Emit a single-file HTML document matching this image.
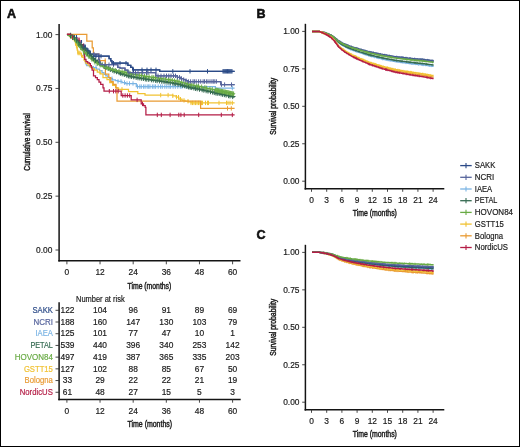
<!DOCTYPE html>
<html><head><meta charset="utf-8"><style>
html,body{margin:0;padding:0;background:#fff;}
body{width:520px;height:447px;overflow:hidden;font-family:"Liberation Sans", sans-serif;}
svg{display:block;will-change:transform;}
</style></head><body>
<svg width="520" height="447" viewBox="0 0 520 447" font-family='"Liberation Sans", sans-serif'>
<rect x="0" y="0" width="520" height="447" fill="#fff"/>
<text x="7" y="17.8" font-size="12.5" text-anchor="start" fill="#111" font-weight="bold" stroke="#111" stroke-width="0.55">A</text>
<line x1="59.1" y1="24" x2="59.1" y2="261.6" stroke="#141414" stroke-width="1.5" />
<line x1="58.3" y1="260.8" x2="240.5" y2="260.8" stroke="#141414" stroke-width="1.5" />
<line x1="55.5" y1="34.6" x2="59.1" y2="34.6" stroke="#333" stroke-width="0.9" />
<text x="52.4" y="37.5" font-size="8.4" text-anchor="end" fill="#1a1a1a" font-weight="normal"  stroke="#1a1a1a" stroke-width="0.18">1.00</text>
<line x1="55.5" y1="88.45" x2="59.1" y2="88.45" stroke="#333" stroke-width="0.9" />
<text x="52.4" y="91.35" font-size="8.4" text-anchor="end" fill="#1a1a1a" font-weight="normal"  stroke="#1a1a1a" stroke-width="0.18">0.75</text>
<line x1="55.5" y1="142.3" x2="59.1" y2="142.3" stroke="#333" stroke-width="0.9" />
<text x="52.4" y="145.2" font-size="8.4" text-anchor="end" fill="#1a1a1a" font-weight="normal"  stroke="#1a1a1a" stroke-width="0.18">0.50</text>
<line x1="55.5" y1="196.15" x2="59.1" y2="196.15" stroke="#333" stroke-width="0.9" />
<text x="52.4" y="199.05" font-size="8.4" text-anchor="end" fill="#1a1a1a" font-weight="normal"  stroke="#1a1a1a" stroke-width="0.18">0.25</text>
<line x1="55.5" y1="250" x2="59.1" y2="250" stroke="#333" stroke-width="0.9" />
<text x="52.4" y="252.9" font-size="8.4" text-anchor="end" fill="#1a1a1a" font-weight="normal"  stroke="#1a1a1a" stroke-width="0.18">0.00</text>
<line x1="66.9" y1="260.8" x2="66.9" y2="264.3" stroke="#333" stroke-width="0.9" />
<text x="66.9" y="275.3" font-size="8.4" text-anchor="middle" fill="#1a1a1a" font-weight="normal"  stroke="#1a1a1a" stroke-width="0.18">0</text>
<line x1="100.04" y1="260.8" x2="100.04" y2="264.3" stroke="#333" stroke-width="0.9" />
<text x="100.04" y="275.3" font-size="8.4" text-anchor="middle" fill="#1a1a1a" font-weight="normal"  stroke="#1a1a1a" stroke-width="0.18">12</text>
<line x1="133.18" y1="260.8" x2="133.18" y2="264.3" stroke="#333" stroke-width="0.9" />
<text x="133.18" y="275.3" font-size="8.4" text-anchor="middle" fill="#1a1a1a" font-weight="normal"  stroke="#1a1a1a" stroke-width="0.18">24</text>
<line x1="166.32" y1="260.8" x2="166.32" y2="264.3" stroke="#333" stroke-width="0.9" />
<text x="166.32" y="275.3" font-size="8.4" text-anchor="middle" fill="#1a1a1a" font-weight="normal"  stroke="#1a1a1a" stroke-width="0.18">36</text>
<line x1="199.46" y1="260.8" x2="199.46" y2="264.3" stroke="#333" stroke-width="0.9" />
<text x="199.46" y="275.3" font-size="8.4" text-anchor="middle" fill="#1a1a1a" font-weight="normal"  stroke="#1a1a1a" stroke-width="0.18">48</text>
<line x1="232.6" y1="260.8" x2="232.6" y2="264.3" stroke="#333" stroke-width="0.9" />
<text x="232.6" y="275.3" font-size="8.4" text-anchor="middle" fill="#1a1a1a" font-weight="normal"  stroke="#1a1a1a" stroke-width="0.18">60</text>
<text x="149.4" y="288.5" font-size="9" text-anchor="middle" fill="#1a1a1a" stroke="#1a1a1a" stroke-width="0.45" textLength="43.8" lengthAdjust="spacingAndGlyphs">Time (months)</text>
<text transform="translate(30.1,142) rotate(-90)" x="0" y="0" font-size="9" text-anchor="middle" fill="#1a1a1a" stroke="#1a1a1a" stroke-width="0.45" textLength="57.3" lengthAdjust="spacingAndGlyphs">Cumulative survival</text>
<path d="M67,34.6H70V35.8H73.6V38.4H76.9V41.8H81V46.5H83V50H83.6V55H84.7V60H85.5V63H86.7V65.5H89.4V66.5H93.4V67.5H96.5V69H99.5V70.6H102V72.6H104V74.4H105.8V75.8H107.8V77.4H109.6V78.7H112.5V79.8H115.4V80.6H118V81.4H122V82.6H125.5V83.5H136.3V86.6H215.4V88.2H234.6" fill="none" stroke="#7ab4e4" stroke-width="1.25"/>
<path d="M86,60.8v4.4M96,65.3v4.4M112,76.5v4.4M118,79.2v4.4M121,79.2v4.4M124.5,80.4v4.4M127,81.3v4.4M129.5,81.3v4.4M133,81.3v4.4M137.5,84.4v4.4M139.8,84.4v4.4M141.3,84.4v4.4M143.6,84.4v4.4M145.1,84.4v4.4M147.2,84.4v4.4M148.7,84.4v4.4M150,84.4v4.4M152.4,84.4v4.4M154,84.4v4.4M155.6,84.4v4.4M158.2,84.4v4.4M160.6,84.4v4.4M162.3,84.4v4.4M164.8,84.4v4.4M166.8,84.4v4.4M169,84.4v4.4M170.6,84.4v4.4M173.1,84.4v4.4M175.3,84.4v4.4M177.8,84.4v4.4M180.3,84.4v4.4M182,84.4v4.4M186,84.4v4.4M190,84.4v4.4M198,84.4v4.4M232.3,86v4.4" stroke="#7ab4e4" stroke-width="1.0"/>
<path d="M67,34.6H68.5V35.6H70V36.8H71.5V38.2H73V39.6H74.5V41.2H75.5V43.6H76.5V47H77.2V50H77.8V53H81.3V55.3H82.7V57.4H84V60.1H85V61.7H86V63.4H88V65H90V66.8H92V68.5H94.4V70H97.3V72H100.2V73.8H103V77.7H107V79.6H109.8V82.5H112.7V85.4H115.6V87.8H118.5V89.3H128.5V91.6H137.8V93.5H145V95.1H172.8V95.8H176.1V97.2H178.8V99.2H182V100.4H185V101.2H188.3V101.9H191V102.9H234.6" fill="none" stroke="#f1c232" stroke-width="1.25"/>
<path d="M75.5,41.4v4.4M77,44.8v4.4M78,50.8v4.4M79,50.8v4.4M80,50.8v4.4M81.5,53.1v4.4M100,69.8v4.4M122,87.1v4.4M160.7,92.9v4.4M168.1,92.9v4.4M172.8,93.6v4.4M176.5,95v4.4M178.5,95v4.4M180.5,97v4.4M184,98.2v4.4M188,99v4.4M191,100.7v4.4M192.5,100.7v4.4M194,100.7v4.4M195.5,100.7v4.4M197,100.7v4.4M198.5,100.7v4.4M200,100.7v4.4M201.5,100.7v4.4M202.5,100.7v4.4M205.5,100.7v4.4M207.5,100.7v4.4M208.5,100.7v4.4M219,100.7v4.4M226.5,100.7v4.4M228,100.7v4.4M230,100.7v4.4M232.3,100.7v4.4" stroke="#f1c232" stroke-width="1.0"/>
<path d="M67,34.4H86.8V41H92.2V47.9H93.4V54.1H98.9V60.6H105.4V74H108.8V77.7H110.8V81.5H113.2V84.4H116V87.5H117V101.2H200.6V108.4H234.6" fill="none" stroke="#e99b33" stroke-width="1.25"/>
<path d="M105.2,58.4v4.4M227.5,106.2v4.4M231.3,106.2v4.4" stroke="#e99b33" stroke-width="1.0"/>
<path d="M67,34.4H71V36.2H73.6V37.6H76.9V40.6H80V44.6H82.5V47.5H83.5V49.5H84V51.5H84.2V53.5H84.4V56.4H84.7V59.4H86V61.5H87.7V62.8H89.4V63.5H90.4V65.5H91.4V67.5H92.1V70.2H93.5V75.8H95.5V77.6H97.3V79.6H99V82H100.7V84.4H103V87.8H104V91.2H121.2V95.5H131.2V99.9H141.2V103.9H143.5V105.6H145.2V107.3H145.9V114.9H234.6" fill="none" stroke="#b41c45" stroke-width="1.25"/>
<path d="M79,38.4v4.4M109.3,89v4.4M113.5,89v4.4M115.8,89v4.4M118.2,89v4.4M122.8,93.3v4.4M125.1,93.3v4.4M127.4,93.3v4.4M129.7,93.3v4.4M137.1,97.7v4.4M142.5,101.7v4.4M157.3,112.7v4.4M161.3,112.7v4.4M170.1,112.7v4.4M178.8,112.7v4.4M180.9,112.7v4.4M184.2,112.7v4.4M198.7,112.7v4.4M221.3,112.7v4.4M232.3,112.7v4.4" stroke="#b41c45" stroke-width="1.0"/>
<path d="M83,46.4H85V48.6H87V50.6H88.9V51.6H90.4V54.1H98.8V59.5H99.5V62H100V64.7H117.8V67.4H120V68.1H125V70H127.9V72.7H155.8V75.8H177.3V77.3H180.4V78.5H183.5V79.6H185.8V80.6H188V81.5H220.8V84.6H234.6" fill="none" stroke="#56649c" stroke-width="1.25"/>
<path d="M83,46H85V48.2H87V50.4H88.9V52.4H90.4V54H93.9V56.2H109.1V58.6H110.8V60.8H112V63.2H127.9V65.4H130.8V67.4H132.7V69.8H159.7V71.3H234.6" fill="none" stroke="#2b4a87" stroke-width="1.25"/>
<path d="M67.3,34.6H68.62V35.11H69.28V35.19H70.18V35.64H71.1V36.16H72.57V37.12H73.6V37.82H75.09V39.6H75.83V39.98H76.75V41.09H78.01V42.87H79.54V44.84H80.58V45.6H81.38V46.24H82.06V46.84H83.2V48.13H83.96V48.67H85.39V50.52H86.87V52.16H87.62V52.59H88.47V53.59H89.91V55.44H91.17V56.63H92.61V58.19H93.53V58.88H94.23V59.47H95.1V60.32H96.52V61.64H97.37V62.08H98.3V62.84H99.31V63.65H100.32V64.3H101.32V64.89H102.88V66H103.61V66.18H104.16V66.46H105.75V67.55H107.27V68.27H108.9V69.1H109.93V69.45H111.53V70.24H113.1V70.89H113.89V71.06H115.26V71.76H116.73V72.27H118.01V72.67H119.13V73.01H120V73.26H120.92V73.58H121.72V73.82H122.35V74H123.55V74.47H124.41V74.69H125.85V75.24H126.45V75.3H128V75.88H129.31V76.15H130.88V76.54H132.41V76.88H133.95V77.24H135.14V77.41H135.7V77.45H137.07V77.72H137.81V77.79H138.69V77.93H139.97V78.16H141.1V78.32H142.1V78.47H143.68V78.75H144.91V78.91H145.83V79.03H146.66V79.15H148.16V79.43H149.23V79.56H150.64V79.79H151.58V79.89H152.35V79.98H153.49V80.17H154.94V80.39H155.67V80.45H157.09V80.69H158.66V80.92H160.1V81.11H161.55V81.32H162.11V81.33H163.35V81.56H164.85V81.8H165.45V81.83H166.3V81.99H167.15V82.13H168.28V82.34H169.29V82.5H170.36V82.68H171.77V82.94H172.32V82.97H172.93V83.07H173.62V83.19H174.31V83.31H174.93V83.41H176.55V83.8H178.04V84.2H178.69V84.26H179.79V84.63H180.69V84.85H181.58V85.09H182.52V85.36H183.78V85.75H184.98V86.07H185.92V86.3H186.69V86.49H187.6V86.76H188.28V86.92H189.44V87.3H190.78V87.59H191.75V87.75H192.39V87.84H193.13V88H194.09V88.22H195.31V88.48H196.72V88.79H197.69V88.93H199.12V89.27H200.36V89.52H201.38V89.73H202.34V89.94H203.44V90.2H204.76V90.53H205.77V90.72H207.08V91.05H208.14V91.26H208.96V91.42H210.1V91.71H211.42V92.03H212.04V92.09H213.06V92.37H214.08V92.6H215.6V92.99H217.18V93.34H218.14V93.49H219.68V93.89H221.1V94.19H221.94V94.31H223V94.57H223.68V94.67H225.13V95.08H226.4V95.34H227.93V95.7H229.35V96H230.64V96.27H231.99V96.58H233.16V96.81H233.83V96.9H234.6V97H234.6" fill="none" stroke="#356b52" stroke-width="1.8"/>
<path d="M97.48,59.58v5M100.11,61.15v5M102.22,62.39v5M104.64,63.96v5M105.99,65.05v5M108.37,65.77v5M110.38,66.95v5M112.69,67.74v5M114.13,68.56v5M116.48,69.26v5M119.09,70.17v5M120.48,70.76v5M122.23,71.32v5M124.32,71.97v5M126.78,72.8v5M128.42,73.38v5M129.97,73.65v5M131.62,74.04v5M133.78,74.38v5M136.14,74.95v5M137.99,75.29v5M139.8,75.43v5M141.66,75.82v5M143.45,75.97v5M145.33,76.41v5M146.75,76.65v5M148.75,76.93v5M151.41,77.29v5M153.29,77.48v5M155.64,77.89v5M157.16,78.19v5M159.43,78.42v5M161.79,78.82v5M164.03,79.06v5M166.06,79.33v5M168.03,79.63v5M170.23,80v5M172.79,80.47v5M174.3,80.69v5M175.73,80.91v5M178.08,81.7v5M180.66,82.13v5M182.69,82.86v5M184.61,83.25v5M186.92,83.99v5M188.48,84.42v5M190.15,84.8v5M191.73,85.09v5M193.85,85.5v5M195.59,85.98v5M197.21,86.29v5M199.48,86.77v5M202.12,87.23v5M203.83,87.7v5M206.12,88.22v5M208,88.55v5M210.49,89.21v5M212.61,89.59v5M214.28,90.1v5M215.89,90.49v5M217.22,90.84v5M219.19,90.99v5M221.03,91.39v5M222.57,91.81v5M224.37,92.17v5M226.13,92.58v5M228.51,93.2v5M230.01,93.5v5M232.7,94.08v5" stroke="#356b52" stroke-width="1.0"/>
<path d="M67.3,34.6H68.11V35.19H69.26V35.83H70.22V36.45H71.43V37.5H72.67V38.47H73.29V38.72H73.86V39.4H75.33V41.83H76.16V42.49H76.97V43.59H78.62V46.62H79.68V47.69H81.15V49.58H82.23V50.57H83.48V52.09H84.2V52.6H85.44V54.1H86.95V55.63H88.07V56.51H89.44V57.89H90.73V58.96H91.35V59.21H92.73V60.72H93.93V61.67H94.81V62.23H95.4V62.5H96.9V63.71H97.97V64.24H99.31V65.15H100.83V65.86H102.16V66.4H103.73V67.14H104.71V67.42H106.14V67.95H107.18V68.23H108.76V68.83H110.28V69.27H110.93V69.33H111.63V69.51H112.42V69.73H114.04V70.24H115.06V70.43H116.3V70.7H117.19V70.82H118.29V71.03H119.27V71.19H120.2V71.34H121.4V71.58H122.59V71.86H124.13V72.27H125.43V72.55H127.01V72.95H128.5V73.28H130.14V73.68H131.43V73.93H132.16V74.03H133.65V74.46H135.26V74.76H136.81V75H137.99V75.15H139.32V75.36H140.1V75.44H141.57V75.72H142.75V75.88H143.61V75.99H144.23V76.06H145.72V76.36H147.36V76.62H148.01V76.64H149.44V76.92H150.44V77.03H151.16V77.11H152.03V77.25H153.42V77.48H154.93V77.7H155.53V77.72H156.76V77.93H157.36V77.97H158.7V78.21H159.61V78.31H161.13V78.56H162.76V78.8H163.87V78.92H165.51V79.22H166.41V79.31H167.04V79.39H168.25V79.64H168.83V79.69H169.6V79.83H170.6V80.02H171.82V80.24H172.54V80.32H173.14V80.41H174.64V80.73H175.54V80.83H177.14V81.26H178.68V81.68H179.65V81.87H180.7V82.17H181.82V82.49H183.08V82.86H184.29V83.19H185.45V83.5H186.69V83.85H188.27V84.34H189.38V84.58H190.4V84.78H191.74V85.08H192.56V85.19H193.44V85.38H195.06V85.78H196.19V85.95H197.34V86.18H197.9V86.24H198.91V86.48H200.1V86.75H200.67V86.81H201.9V87.15H203.14V87.42H203.76V87.48H205V87.82H206.06V88.03H207.36V88.34H208.3V88.5H209.62V88.84H210.99V89.14H211.56V89.17H212.18V89.31H213.47V89.67H215.08V90.05H215.91V90.14H216.96V90.38H218.16V90.65H219.06V90.81H220.01V91.02H220.91V91.2H221.86V91.41H223.07V91.69H223.95V91.84H224.91V92.06H226.31V92.4H226.89V92.43H228.07V92.74H229.43V93.05H230.32V93.19H231.11V93.35H232.55V93.72H233.36V93.82H234.12V93.98H234.6V94H234.6" fill="none" stroke="#69ab45" stroke-width="1.3"/>
<path d="M72.5,35.2v4.6M75.18,37.1v4.6M77.62,41.29v4.6M80.72,45.39v4.6M83.8,49.79v4.6M86.4,51.8v4.6M88.87,54.21v4.6M91.77,56.91v4.6M94.91,59.93v4.6M97.23,61.41v4.6M100.15,62.85v4.6M103.48,64.1v4.6M105.92,65.12v4.6M107.93,65.93v4.6M109.96,66.53v4.6M112.85,67.43v4.6M115.66,68.13v4.6M118.99,68.73v4.6M122.13,69.28v4.6M124.16,69.97v4.6M126.1,70.25v4.6M128.17,70.65v4.6M130.11,70.98v4.6M132.98,71.73v4.6M136.12,72.46v4.6M139.34,73.06v4.6M141.4,73.14v4.6M144.56,73.76v4.6M146.72,74.06v4.6M149.08,74.34v4.6M151.99,74.81v4.6M153.75,75.18v4.6M155.52,75.4v4.6M158.62,75.67v4.6M160.74,76.01v4.6M162.98,76.5v4.6M165.63,76.92v4.6M168.44,77.34v4.6M170.06,77.53v4.6M172.26,77.94v4.6M174.64,78.43v4.6M177.12,78.53v4.6M179.1,79.38v4.6M181.75,79.87v4.6M185.07,80.89v4.6M187.37,81.55v4.6M189.95,82.28v4.6M191.77,82.78v4.6M193.86,83.08v4.6M196.66,83.65v4.6M198.46,83.94v4.6M201.66,84.51v4.6M204.9,85.18v4.6M206.67,85.73v4.6M209.96,86.54v4.6M212.24,87.01v4.6M215.23,87.75v4.6M216.03,87.84v4.6M216.83,87.84v4.6M217.63,88.08v4.6M218.43,88.35v4.6M219.23,88.51v4.6M220.03,88.72v4.6M220.83,88.72v4.6M221.63,88.9v4.6M222.43,89.11v4.6M223.23,89.39v4.6M224.03,89.54v4.6M224.83,89.54v4.6M225.63,89.76v4.6M226.43,90.1v4.6M227.23,90.13v4.6M228.03,90.13v4.6M228.83,90.44v4.6M229.63,90.75v4.6M230.43,90.89v4.6M231.23,91.05v4.6M232.03,91.05v4.6M232.83,91.42v4.6M233.63,91.52v4.6" stroke="#69ab45" stroke-width="1.0"/>
<path d="M70.5,32.84v5.6M72.76,34.32v5.6M74.55,35.02v5.6M76.73,37.18v5.6M78.88,40.07v5.6M81.19,42.8v5.6M82.95,44.04v5.6M85.21,45.87v5.6M87.67,49.79v5.6M89.84,50.79v5.6M91.88,53.83v5.6M93.49,55.39v5.6M95.49,57.52v5.6" stroke="#356b52" stroke-width="1.1"/>
<line x1="66.8" y1="34.35" x2="70.8" y2="34.35" stroke="#b41c45" stroke-width="1.3" />
<path d="M72.5,35.6v3.2M79,37.4v3.2M83.5,43.6v3.2" stroke="#b41c45" stroke-width="1.1"/>
<path d="M76.5,35.0v3.0M81.5,40.0v3.0M85.2,44.6v3.0M88,48.2v3.0" stroke="#2b4a87" stroke-width="1.1"/>
<path d="M93,54.1H98.8V59.5H99.5V62H100V64.7H117.8V67.4H120V68.1H125V70H127.9V72.7H155.8V75.8H177.3V77.3H180.4V78.5H183.5V79.6H185.8V80.6H188V81.5H220.8V84.6H234.6" fill="none" stroke="#56649c" stroke-width="1.25"/>
<path d="M94,51.9v4.4M105,62.5v4.4M109,62.5v4.4M113.5,62.5v4.4M129,70.5v4.4M133,70.5v4.4M135.5,70.5v4.4M138,70.5v4.4M142.7,70.5v4.4M146.5,70.5v4.4M148,70.5v4.4M158,73.6v4.4M161,73.6v4.4M164,73.6v4.4M166.5,73.6v4.4M168.8,73.6v4.4M171,73.6v4.4M173.5,73.6v4.4M175.5,73.6v4.4M177.5,75.1v4.4M179.5,75.1v4.4M181.5,76.3v4.4M183.7,77.4v4.4M186,78.4v4.4M188.4,79.3v4.4M190.6,79.3v4.4M193,79.3v4.4M194.4,79.3v4.4M196.2,79.3v4.4M198.6,79.3v4.4M200.7,79.3v4.4M203.1,79.3v4.4M204.5,79.3v4.4M206.4,79.3v4.4M208,79.3v4.4M210,79.3v4.4M211.9,79.3v4.4M213.3,79.3v4.4M214.8,79.3v4.4M216.4,79.3v4.4M221.5,82.4v4.4M224.6,82.4v4.4M231.5,82.4v4.4" stroke="#56649c" stroke-width="1.0"/>
<path d="M93,56.2H93.9V56.2H109.1V58.6H110.8V60.8H112V63.2H127.9V65.4H130.8V67.4H132.7V69.8H159.7V71.3H234.6" fill="none" stroke="#2b4a87" stroke-width="1.25"/>
<path d="M84,43.8v4.4M90,50.2v4.4M96,54v4.4M101,54v4.4M113.5,61v4.4M120,61v4.4M126,61v4.4M133.5,67.6v4.4M142,67.6v4.4M147,67.6v4.4M151,67.6v4.4M156,67.6v4.4M172.8,69.1v4.4M190,69.1v4.4M207.5,69.1v4.4M223,69.1v4.4M223.9,69.1v4.4M224.8,69.1v4.4M225.7,69.1v4.4M226.6,69.1v4.4M227.5,69.1v4.4M228.4,69.1v4.4M229.3,69.1v4.4M230.2,69.1v4.4M231.1,69.1v4.4M232,69.1v4.4" stroke="#2b4a87" stroke-width="1.0"/>
<text x="76" y="301.6" font-size="8.4" text-anchor="start" fill="#1a1a1a" font-weight="normal"  stroke="#1a1a1a" stroke-width="0.18" textLength="48.63" lengthAdjust="spacingAndGlyphs">Number at risk</text>
<line x1="59.1" y1="302.3" x2="59.1" y2="400.2" stroke="#141414" stroke-width="1.5" />
<line x1="58.3" y1="399.4" x2="240.7" y2="399.4" stroke="#141414" stroke-width="1.5" />
<line x1="55.5" y1="310.3" x2="59.1" y2="310.3" stroke="#333" stroke-width="0.9" />
<text x="52.9" y="313" font-size="8.4" text-anchor="end" fill="#2b4a87" font-weight="normal"  stroke="#2b4a87" stroke-width="0.18" textLength="20.49" lengthAdjust="spacingAndGlyphs">SAKK</text>
<text x="67.5" y="313" font-size="8.4" text-anchor="middle" fill="#1a1a1a" font-weight="normal"  stroke="#1a1a1a" stroke-width="0.18">122</text>
<text x="100.04" y="313" font-size="8.4" text-anchor="middle" fill="#1a1a1a" font-weight="normal"  stroke="#1a1a1a" stroke-width="0.18">104</text>
<text x="133.18" y="313" font-size="8.4" text-anchor="middle" fill="#1a1a1a" font-weight="normal"  stroke="#1a1a1a" stroke-width="0.18">96</text>
<text x="166.32" y="313" font-size="8.4" text-anchor="middle" fill="#1a1a1a" font-weight="normal"  stroke="#1a1a1a" stroke-width="0.18">91</text>
<text x="199.46" y="313" font-size="8.4" text-anchor="middle" fill="#1a1a1a" font-weight="normal"  stroke="#1a1a1a" stroke-width="0.18">89</text>
<text x="232.6" y="313" font-size="8.4" text-anchor="middle" fill="#1a1a1a" font-weight="normal"  stroke="#1a1a1a" stroke-width="0.18">69</text>
<line x1="55.5" y1="322.01" x2="59.1" y2="322.01" stroke="#333" stroke-width="0.9" />
<text x="52.9" y="324.71" font-size="8.4" text-anchor="end" fill="#56649c" font-weight="normal"  stroke="#56649c" stroke-width="0.18" textLength="19.46" lengthAdjust="spacingAndGlyphs">NCRI</text>
<text x="67.5" y="324.71" font-size="8.4" text-anchor="middle" fill="#1a1a1a" font-weight="normal"  stroke="#1a1a1a" stroke-width="0.18">188</text>
<text x="100.04" y="324.71" font-size="8.4" text-anchor="middle" fill="#1a1a1a" font-weight="normal"  stroke="#1a1a1a" stroke-width="0.18">160</text>
<text x="133.18" y="324.71" font-size="8.4" text-anchor="middle" fill="#1a1a1a" font-weight="normal"  stroke="#1a1a1a" stroke-width="0.18">147</text>
<text x="166.32" y="324.71" font-size="8.4" text-anchor="middle" fill="#1a1a1a" font-weight="normal"  stroke="#1a1a1a" stroke-width="0.18">130</text>
<text x="199.46" y="324.71" font-size="8.4" text-anchor="middle" fill="#1a1a1a" font-weight="normal"  stroke="#1a1a1a" stroke-width="0.18">103</text>
<text x="232.6" y="324.71" font-size="8.4" text-anchor="middle" fill="#1a1a1a" font-weight="normal"  stroke="#1a1a1a" stroke-width="0.18">79</text>
<line x1="55.5" y1="333.72" x2="59.1" y2="333.72" stroke="#333" stroke-width="0.9" />
<text x="52.9" y="336.42" font-size="8.4" text-anchor="end" fill="#7ab4e4" font-weight="normal"  stroke="#7ab4e4" stroke-width="0.18" textLength="17.41" lengthAdjust="spacingAndGlyphs">IAEA</text>
<text x="67.5" y="336.42" font-size="8.4" text-anchor="middle" fill="#1a1a1a" font-weight="normal"  stroke="#1a1a1a" stroke-width="0.18">125</text>
<text x="100.04" y="336.42" font-size="8.4" text-anchor="middle" fill="#1a1a1a" font-weight="normal"  stroke="#1a1a1a" stroke-width="0.18">101</text>
<text x="133.18" y="336.42" font-size="8.4" text-anchor="middle" fill="#1a1a1a" font-weight="normal"  stroke="#1a1a1a" stroke-width="0.18">77</text>
<text x="166.32" y="336.42" font-size="8.4" text-anchor="middle" fill="#1a1a1a" font-weight="normal"  stroke="#1a1a1a" stroke-width="0.18">47</text>
<text x="199.46" y="336.42" font-size="8.4" text-anchor="middle" fill="#1a1a1a" font-weight="normal"  stroke="#1a1a1a" stroke-width="0.18">10</text>
<text x="232.6" y="336.42" font-size="8.4" text-anchor="middle" fill="#1a1a1a" font-weight="normal"  stroke="#1a1a1a" stroke-width="0.18">1</text>
<line x1="55.5" y1="345.43" x2="59.1" y2="345.43" stroke="#333" stroke-width="0.9" />
<text x="52.9" y="348.13" font-size="8.4" text-anchor="end" fill="#356b52" font-weight="normal"  stroke="#356b52" stroke-width="0.18" textLength="22.52" lengthAdjust="spacingAndGlyphs">PETAL</text>
<text x="67.5" y="348.13" font-size="8.4" text-anchor="middle" fill="#1a1a1a" font-weight="normal"  stroke="#1a1a1a" stroke-width="0.18">539</text>
<text x="100.04" y="348.13" font-size="8.4" text-anchor="middle" fill="#1a1a1a" font-weight="normal"  stroke="#1a1a1a" stroke-width="0.18">440</text>
<text x="133.18" y="348.13" font-size="8.4" text-anchor="middle" fill="#1a1a1a" font-weight="normal"  stroke="#1a1a1a" stroke-width="0.18">396</text>
<text x="166.32" y="348.13" font-size="8.4" text-anchor="middle" fill="#1a1a1a" font-weight="normal"  stroke="#1a1a1a" stroke-width="0.18">340</text>
<text x="199.46" y="348.13" font-size="8.4" text-anchor="middle" fill="#1a1a1a" font-weight="normal"  stroke="#1a1a1a" stroke-width="0.18">253</text>
<text x="232.6" y="348.13" font-size="8.4" text-anchor="middle" fill="#1a1a1a" font-weight="normal"  stroke="#1a1a1a" stroke-width="0.18">142</text>
<line x1="55.5" y1="357.14" x2="59.1" y2="357.14" stroke="#333" stroke-width="0.9" />
<text x="52.9" y="359.84" font-size="8.4" text-anchor="end" fill="#69ab45" font-weight="normal"  stroke="#69ab45" stroke-width="0.18" textLength="38.23" lengthAdjust="spacingAndGlyphs">HOVON84</text>
<text x="67.5" y="359.84" font-size="8.4" text-anchor="middle" fill="#1a1a1a" font-weight="normal"  stroke="#1a1a1a" stroke-width="0.18">497</text>
<text x="100.04" y="359.84" font-size="8.4" text-anchor="middle" fill="#1a1a1a" font-weight="normal"  stroke="#1a1a1a" stroke-width="0.18">419</text>
<text x="133.18" y="359.84" font-size="8.4" text-anchor="middle" fill="#1a1a1a" font-weight="normal"  stroke="#1a1a1a" stroke-width="0.18">387</text>
<text x="166.32" y="359.84" font-size="8.4" text-anchor="middle" fill="#1a1a1a" font-weight="normal"  stroke="#1a1a1a" stroke-width="0.18">365</text>
<text x="199.46" y="359.84" font-size="8.4" text-anchor="middle" fill="#1a1a1a" font-weight="normal"  stroke="#1a1a1a" stroke-width="0.18">335</text>
<text x="232.6" y="359.84" font-size="8.4" text-anchor="middle" fill="#1a1a1a" font-weight="normal"  stroke="#1a1a1a" stroke-width="0.18">203</text>
<line x1="55.5" y1="368.85" x2="59.1" y2="368.85" stroke="#333" stroke-width="0.9" />
<text x="52.9" y="371.55" font-size="8.4" text-anchor="end" fill="#f1c232" font-weight="normal"  stroke="#f1c232" stroke-width="0.18" textLength="29.02" lengthAdjust="spacingAndGlyphs">GSTT15</text>
<text x="67.5" y="371.55" font-size="8.4" text-anchor="middle" fill="#1a1a1a" font-weight="normal"  stroke="#1a1a1a" stroke-width="0.18">127</text>
<text x="100.04" y="371.55" font-size="8.4" text-anchor="middle" fill="#1a1a1a" font-weight="normal"  stroke="#1a1a1a" stroke-width="0.18">102</text>
<text x="133.18" y="371.55" font-size="8.4" text-anchor="middle" fill="#1a1a1a" font-weight="normal"  stroke="#1a1a1a" stroke-width="0.18">88</text>
<text x="166.32" y="371.55" font-size="8.4" text-anchor="middle" fill="#1a1a1a" font-weight="normal"  stroke="#1a1a1a" stroke-width="0.18">85</text>
<text x="199.46" y="371.55" font-size="8.4" text-anchor="middle" fill="#1a1a1a" font-weight="normal"  stroke="#1a1a1a" stroke-width="0.18">67</text>
<text x="232.6" y="371.55" font-size="8.4" text-anchor="middle" fill="#1a1a1a" font-weight="normal"  stroke="#1a1a1a" stroke-width="0.18">50</text>
<line x1="55.5" y1="380.56" x2="59.1" y2="380.56" stroke="#333" stroke-width="0.9" />
<text x="52.9" y="383.26" font-size="8.4" text-anchor="end" fill="#e99b33" font-weight="normal"  stroke="#e99b33" stroke-width="0.18" textLength="28.33" lengthAdjust="spacingAndGlyphs">Bologna</text>
<text x="67.5" y="383.26" font-size="8.4" text-anchor="middle" fill="#1a1a1a" font-weight="normal"  stroke="#1a1a1a" stroke-width="0.18">33</text>
<text x="100.04" y="383.26" font-size="8.4" text-anchor="middle" fill="#1a1a1a" font-weight="normal"  stroke="#1a1a1a" stroke-width="0.18">29</text>
<text x="133.18" y="383.26" font-size="8.4" text-anchor="middle" fill="#1a1a1a" font-weight="normal"  stroke="#1a1a1a" stroke-width="0.18">22</text>
<text x="166.32" y="383.26" font-size="8.4" text-anchor="middle" fill="#1a1a1a" font-weight="normal"  stroke="#1a1a1a" stroke-width="0.18">22</text>
<text x="199.46" y="383.26" font-size="8.4" text-anchor="middle" fill="#1a1a1a" font-weight="normal"  stroke="#1a1a1a" stroke-width="0.18">21</text>
<text x="232.6" y="383.26" font-size="8.4" text-anchor="middle" fill="#1a1a1a" font-weight="normal"  stroke="#1a1a1a" stroke-width="0.18">19</text>
<line x1="55.5" y1="392.27" x2="59.1" y2="392.27" stroke="#333" stroke-width="0.9" />
<text x="52.9" y="394.97" font-size="8.4" text-anchor="end" fill="#b41c45" font-weight="normal"  stroke="#b41c45" stroke-width="0.18" textLength="33.2" lengthAdjust="spacingAndGlyphs">NordicUS</text>
<text x="67.5" y="394.97" font-size="8.4" text-anchor="middle" fill="#1a1a1a" font-weight="normal"  stroke="#1a1a1a" stroke-width="0.18">61</text>
<text x="100.04" y="394.97" font-size="8.4" text-anchor="middle" fill="#1a1a1a" font-weight="normal"  stroke="#1a1a1a" stroke-width="0.18">48</text>
<text x="133.18" y="394.97" font-size="8.4" text-anchor="middle" fill="#1a1a1a" font-weight="normal"  stroke="#1a1a1a" stroke-width="0.18">27</text>
<text x="166.32" y="394.97" font-size="8.4" text-anchor="middle" fill="#1a1a1a" font-weight="normal"  stroke="#1a1a1a" stroke-width="0.18">15</text>
<text x="199.46" y="394.97" font-size="8.4" text-anchor="middle" fill="#1a1a1a" font-weight="normal"  stroke="#1a1a1a" stroke-width="0.18">5</text>
<text x="232.6" y="394.97" font-size="8.4" text-anchor="middle" fill="#1a1a1a" font-weight="normal"  stroke="#1a1a1a" stroke-width="0.18">3</text>
<line x1="66.9" y1="399.4" x2="66.9" y2="402.7" stroke="#333" stroke-width="0.9" />
<text x="66.9" y="413.5" font-size="8.4" text-anchor="middle" fill="#1a1a1a" font-weight="normal"  stroke="#1a1a1a" stroke-width="0.18">0</text>
<line x1="100.04" y1="399.4" x2="100.04" y2="402.7" stroke="#333" stroke-width="0.9" />
<text x="100.04" y="413.5" font-size="8.4" text-anchor="middle" fill="#1a1a1a" font-weight="normal"  stroke="#1a1a1a" stroke-width="0.18">12</text>
<line x1="133.18" y1="399.4" x2="133.18" y2="402.7" stroke="#333" stroke-width="0.9" />
<text x="133.18" y="413.5" font-size="8.4" text-anchor="middle" fill="#1a1a1a" font-weight="normal"  stroke="#1a1a1a" stroke-width="0.18">24</text>
<line x1="166.32" y1="399.4" x2="166.32" y2="402.7" stroke="#333" stroke-width="0.9" />
<text x="166.32" y="413.5" font-size="8.4" text-anchor="middle" fill="#1a1a1a" font-weight="normal"  stroke="#1a1a1a" stroke-width="0.18">36</text>
<line x1="199.46" y1="399.4" x2="199.46" y2="402.7" stroke="#333" stroke-width="0.9" />
<text x="199.46" y="413.5" font-size="8.4" text-anchor="middle" fill="#1a1a1a" font-weight="normal"  stroke="#1a1a1a" stroke-width="0.18">48</text>
<line x1="232.6" y1="399.4" x2="232.6" y2="402.7" stroke="#333" stroke-width="0.9" />
<text x="232.6" y="413.5" font-size="8.4" text-anchor="middle" fill="#1a1a1a" font-weight="normal"  stroke="#1a1a1a" stroke-width="0.18">60</text>
<text x="149.8" y="427.2" font-size="9" text-anchor="middle" fill="#1a1a1a" stroke="#1a1a1a" stroke-width="0.45" textLength="44.6" lengthAdjust="spacingAndGlyphs">Time (months)</text>
<text x="256.4" y="17.8" font-size="12.5" text-anchor="start" fill="#111" font-weight="bold" stroke="#111" stroke-width="0.55">B</text>
<line x1="305.4" y1="23.8" x2="305.4" y2="189.6" stroke="#141414" stroke-width="1.5" />
<line x1="304.6" y1="188.8" x2="444.3" y2="188.8" stroke="#141414" stroke-width="1.5" />
<line x1="302.2" y1="31.4" x2="305.4" y2="31.4" stroke="#333" stroke-width="0.9" />
<text x="299.5" y="34.4" font-size="8.4" text-anchor="end" fill="#1a1a1a" font-weight="normal"  stroke="#1a1a1a" stroke-width="0.18">1.00</text>
<line x1="302.2" y1="68.85" x2="305.4" y2="68.85" stroke="#333" stroke-width="0.9" />
<text x="299.5" y="71.85" font-size="8.4" text-anchor="end" fill="#1a1a1a" font-weight="normal"  stroke="#1a1a1a" stroke-width="0.18">0.75</text>
<line x1="302.2" y1="106.3" x2="305.4" y2="106.3" stroke="#333" stroke-width="0.9" />
<text x="299.5" y="109.3" font-size="8.4" text-anchor="end" fill="#1a1a1a" font-weight="normal"  stroke="#1a1a1a" stroke-width="0.18">0.50</text>
<line x1="302.2" y1="143.75" x2="305.4" y2="143.75" stroke="#333" stroke-width="0.9" />
<text x="299.5" y="146.75" font-size="8.4" text-anchor="end" fill="#1a1a1a" font-weight="normal"  stroke="#1a1a1a" stroke-width="0.18">0.25</text>
<line x1="302.2" y1="181.2" x2="305.4" y2="181.2" stroke="#333" stroke-width="0.9" />
<text x="299.5" y="184.2" font-size="8.4" text-anchor="end" fill="#1a1a1a" font-weight="normal"  stroke="#1a1a1a" stroke-width="0.18">0.00</text>
<line x1="311.5" y1="188.8" x2="311.5" y2="191.8" stroke="#333" stroke-width="0.9" />
<text x="311.5" y="202.9" font-size="8.4" text-anchor="middle" fill="#1a1a1a" font-weight="normal"  stroke="#1a1a1a" stroke-width="0.18">0</text>
<line x1="326.7" y1="188.8" x2="326.7" y2="191.8" stroke="#333" stroke-width="0.9" />
<text x="326.7" y="202.9" font-size="8.4" text-anchor="middle" fill="#1a1a1a" font-weight="normal"  stroke="#1a1a1a" stroke-width="0.18">3</text>
<line x1="341.9" y1="188.8" x2="341.9" y2="191.8" stroke="#333" stroke-width="0.9" />
<text x="341.9" y="202.9" font-size="8.4" text-anchor="middle" fill="#1a1a1a" font-weight="normal"  stroke="#1a1a1a" stroke-width="0.18">6</text>
<line x1="357.1" y1="188.8" x2="357.1" y2="191.8" stroke="#333" stroke-width="0.9" />
<text x="357.1" y="202.9" font-size="8.4" text-anchor="middle" fill="#1a1a1a" font-weight="normal"  stroke="#1a1a1a" stroke-width="0.18">9</text>
<line x1="372.3" y1="188.8" x2="372.3" y2="191.8" stroke="#333" stroke-width="0.9" />
<text x="372.3" y="202.9" font-size="8.4" text-anchor="middle" fill="#1a1a1a" font-weight="normal"  stroke="#1a1a1a" stroke-width="0.18">12</text>
<line x1="387.5" y1="188.8" x2="387.5" y2="191.8" stroke="#333" stroke-width="0.9" />
<text x="387.5" y="202.9" font-size="8.4" text-anchor="middle" fill="#1a1a1a" font-weight="normal"  stroke="#1a1a1a" stroke-width="0.18">15</text>
<line x1="402.71" y1="188.8" x2="402.71" y2="191.8" stroke="#333" stroke-width="0.9" />
<text x="402.71" y="202.9" font-size="8.4" text-anchor="middle" fill="#1a1a1a" font-weight="normal"  stroke="#1a1a1a" stroke-width="0.18">18</text>
<line x1="417.91" y1="188.8" x2="417.91" y2="191.8" stroke="#333" stroke-width="0.9" />
<text x="417.91" y="202.9" font-size="8.4" text-anchor="middle" fill="#1a1a1a" font-weight="normal"  stroke="#1a1a1a" stroke-width="0.18">21</text>
<line x1="433.11" y1="188.8" x2="433.11" y2="191.8" stroke="#333" stroke-width="0.9" />
<text x="433.11" y="202.9" font-size="8.4" text-anchor="middle" fill="#1a1a1a" font-weight="normal"  stroke="#1a1a1a" stroke-width="0.18">24</text>
<text x="374.85" y="216" font-size="9" text-anchor="middle" fill="#1a1a1a" stroke="#1a1a1a" stroke-width="0.45" textLength="44.1" lengthAdjust="spacingAndGlyphs">Time (months)</text>
<text transform="translate(276.3,106.3) rotate(-90)" x="0" y="0" font-size="9" text-anchor="middle" fill="#1a1a1a" stroke="#1a1a1a" stroke-width="0.45" textLength="57.1" lengthAdjust="spacingAndGlyphs">Survival probability</text>
<path d="M312,31.4L312.11,31.4L312.72,31.4L313.32,31.4L313.93,31.4L314.54,31.4L315.15,31.4L315.76,31.4L316.36,31.4L316.97,31.4L317.58,31.4L318.19,31.4L318.8,31.4L319.4,31.49L320.01,31.67L320.62,31.85L321.23,32.03L321.84,32.21L322.44,32.39L323.05,32.59L323.66,32.8L324.27,33.01L324.88,33.21L325.48,33.42L326.09,33.63L326.7,33.84L327.31,34.13L327.92,34.42L328.53,34.71L329.13,35L329.74,35.28L330.35,35.57L330.96,35.91L331.57,36.36L332.17,36.81L332.78,37.26L333.39,37.71L334,38.16L334.61,38.69L335.21,39.32L335.82,39.95L336.43,40.58L337.04,41.21L337.65,41.84L338.25,42.46L338.86,42.92L339.47,43.34L340.08,43.76L340.69,44.17L341.29,44.59L341.9,45.01L342.51,45.34L343.12,45.67L343.73,46L344.33,46.33L344.94,46.66L345.55,46.98L346.16,47.25L346.77,47.53L347.37,47.8L347.98,48.07L348.59,48.35L349.2,48.62L349.81,48.89L350.41,49.17L351.02,49.44L351.63,49.72L352.24,49.97L352.85,50.19L353.45,50.4L354.06,50.61L354.67,50.83L355.28,51.04L355.89,51.26L356.49,51.47L357.1,51.69L357.71,51.9L358.32,52.12L358.93,52.33L359.54,52.55L360.14,52.76L360.75,52.95L361.36,53.15L361.97,53.34L362.58,53.54L363.18,53.73L363.79,53.92L364.4,54.12L365.01,54.31L365.62,54.51L366.22,54.7L366.83,54.89L367.44,55.09L368.05,55.28L368.66,55.48L369.26,55.67L369.87,55.86L370.48,56.01L371.09,56.16L371.7,56.31L372.3,56.46L372.91,56.61L373.52,56.76L374.13,56.91L374.74,57.06L375.34,57.21L375.95,57.37L376.56,57.52L377.17,57.67L377.78,57.82L378.38,57.97L378.99,58.12L379.6,58.27L380.21,58.42L380.82,58.57L381.42,58.72L382.03,58.87L382.64,59.01L383.25,59.13L383.86,59.26L384.46,59.38L385.07,59.5L385.68,59.62L386.29,59.74L386.9,59.86L387.5,59.98L388.11,60.1L388.72,60.22L389.33,60.34L389.94,60.46L390.55,60.58L391.15,60.7L391.76,60.82L392.37,60.94L392.98,61.06L393.59,61.19L394.19,61.31L394.8,61.43L395.41,61.53L396.02,61.61L396.63,61.69L397.23,61.77L397.84,61.85L398.45,61.93L399.06,62.01L399.67,62.09L400.27,62.17L400.88,62.26L401.49,62.34L402.1,62.42L402.71,62.5L403.31,62.58L403.92,62.66L404.53,62.74L405.14,62.82L405.75,62.9L406.35,62.98L406.96,63.06L407.57,63.14L408.18,63.23L408.79,63.31L409.39,63.39L410,63.46L410.61,63.53L411.22,63.6L411.83,63.67L412.43,63.73L413.04,63.8L413.65,63.87L414.26,63.94L414.87,64.01L415.47,64.07L416.08,64.14L416.69,64.21L417.3,64.28L417.91,64.34L418.52,64.41L419.12,64.48L419.73,64.55L420.34,64.61L420.95,64.68L421.56,64.75L422.16,64.82L422.77,64.88L423.38,64.96L423.99,65.05L424.6,65.13L425.2,65.21L425.81,65.3L426.42,65.38L427.03,65.47L427.64,65.55L428.24,65.63L428.85,65.72L429.46,65.8L430.07,65.88L430.68,65.97L431.28,66.05L431.89,66.14L432.5,66.22L433.11,66.3L433.61,66.3" fill="none" stroke="#7ab4e4" stroke-width="1.5" stroke-linejoin="round"/>
<path d="M415.77,62.91v2.4M406.13,61.75v2.4M368.52,54.23v2.4M350.5,48.01v2.4M378.63,56.83v2.4M366.77,53.68v2.4M409.01,62.14v2.4M355.45,49.9v2.4M374.76,55.87v2.4M386.67,58.61v2.4M422.86,63.7v2.4M377.89,56.65v2.4M353.05,49.06v2.4M405.89,61.72v2.4M390.57,59.39v2.4M349.56,47.58v2.4M423.05,63.72v2.4M431.19,64.84v2.4M411.95,62.48v2.4M422.2,63.62v2.4M356.21,50.17v2.4M402.99,61.34v2.4M421.83,63.58v2.4M397.88,60.66v2.4M374.27,55.75v2.4M332.86,36.12v2.4M370.03,54.7v2.4M389.73,59.22v2.4M423.41,63.77v2.4M429.39,64.59v2.4M374.81,55.88v2.4M418.09,63.16v2.4M350.67,48.08v2.4M411.37,62.42v2.4M382.8,57.85v2.4M323.2,31.44v2.4M401.86,61.19v2.4M366.09,53.46v2.4M413.58,62.66v2.4M396.12,60.42v2.4M321.76,30.99v2.4M376.66,56.34v2.4M418.35,63.19v2.4M348.82,47.25v2.4M357.89,50.76v2.4M418.67,63.23v2.4M342.93,44.37v2.4M384.9,58.26v2.4M348.23,46.99v2.4M429.49,64.6v2.4M411.17,62.39v2.4M371.57,55.08v2.4M330.6,34.49v2.4M357.31,50.56v2.4M378.26,56.74v2.4M425.62,64.07v2.4M333.79,36.8v2.4M383.09,57.9v2.4M400.4,60.99v2.4M382.66,57.82v2.4M412.43,62.53v2.4M381.86,57.63v2.4M429.08,64.55v2.4M388.87,59.05v2.4M387.14,58.71v2.4M371.24,55v2.4M388.1,58.9v2.4M364.54,52.96v2.4M385.8,58.44v2.4M354,49.39v2.4" stroke="#7ab4e4" stroke-width="0.6" opacity="0.8"/>
<path d="M312,31.4L312.11,31.4L312.72,31.4L313.32,31.4L313.93,31.4L314.54,31.4L315.15,31.4L315.76,31.4L316.36,31.4L316.97,31.4L317.58,31.4L318.19,31.4L318.8,31.4L319.4,31.49L320.01,31.66L320.62,31.83L321.23,32L321.84,32.18L322.44,32.35L323.05,32.54L323.66,32.74L324.27,32.94L324.88,33.14L325.48,33.35L326.09,33.55L326.7,33.75L327.31,34.03L327.92,34.3L328.53,34.58L329.13,34.86L329.74,35.13L330.35,35.41L330.96,35.74L331.57,36.17L332.17,36.6L332.78,37.03L333.39,37.46L334,37.9L334.61,38.41L335.21,39.02L335.82,39.62L336.43,40.23L337.04,40.83L337.65,41.43L338.25,42.04L338.86,42.47L339.47,42.88L340.08,43.28L340.69,43.68L341.29,44.08L341.9,44.49L342.51,44.8L343.12,45.12L343.73,45.44L344.33,45.75L344.94,46.07L345.55,46.38L346.16,46.64L346.77,46.9L347.37,47.17L347.98,47.43L348.59,47.69L349.2,47.96L349.81,48.22L350.41,48.48L351.02,48.75L351.63,49.01L352.24,49.25L352.85,49.46L353.45,49.67L354.06,49.87L354.67,50.08L355.28,50.28L355.89,50.49L356.49,50.7L357.1,50.9L357.71,51.11L358.32,51.32L358.93,51.52L359.54,51.73L360.14,51.94L360.75,52.12L361.36,52.31L361.97,52.5L362.58,52.68L363.18,52.87L363.79,53.05L364.4,53.24L365.01,53.43L365.62,53.61L366.22,53.8L366.83,53.99L367.44,54.17L368.05,54.36L368.66,54.55L369.26,54.73L369.87,54.91L370.48,55.06L371.09,55.2L371.7,55.35L372.3,55.49L372.91,55.64L373.52,55.78L374.13,55.93L374.74,56.07L375.34,56.22L375.95,56.36L376.56,56.51L377.17,56.65L377.78,56.8L378.38,56.94L378.99,57.09L379.6,57.23L380.21,57.38L380.82,57.52L381.42,57.67L382.03,57.81L382.64,57.95L383.25,58.06L383.86,58.18L384.46,58.3L385.07,58.41L385.68,58.53L386.29,58.64L386.9,58.76L387.5,58.87L388.11,58.99L388.72,59.11L389.33,59.22L389.94,59.34L390.55,59.45L391.15,59.57L391.76,59.69L392.37,59.8L392.98,59.92L393.59,60.03L394.19,60.15L394.8,60.27L395.41,60.36L396.02,60.44L396.63,60.52L397.23,60.6L397.84,60.67L398.45,60.75L399.06,60.83L399.67,60.91L400.27,60.99L400.88,61.06L401.49,61.14L402.1,61.22L402.71,61.3L403.31,61.37L403.92,61.45L404.53,61.53L405.14,61.61L405.75,61.69L406.35,61.76L406.96,61.84L407.57,61.92L408.18,62L408.79,62.07L409.39,62.15L410,62.23L410.61,62.29L411.22,62.36L411.83,62.42L412.43,62.49L413.04,62.55L413.65,62.62L414.26,62.68L414.87,62.75L415.47,62.81L416.08,62.88L416.69,62.94L417.3,63.01L417.91,63.07L418.52,63.14L419.12,63.2L419.73,63.27L420.34,63.33L420.95,63.4L421.56,63.46L422.16,63.53L422.77,63.59L423.38,63.67L423.99,63.75L424.6,63.83L425.2,63.91L425.81,63.99L426.42,64.07L427.03,64.15L427.64,64.23L428.24,64.31L428.85,64.39L429.46,64.47L430.07,64.55L430.68,64.63L431.28,64.71L431.89,64.79L432.5,64.87L433.11,64.96L433.61,64.96" fill="none" stroke="#356b52" stroke-width="1.5" stroke-linejoin="round"/>
<path d="M336.61,39.21v2.4M416.1,61.68v2.4M406.78,60.62v2.4M350.07,47.13v2.4M376.86,55.38v2.4M371.74,54.16v2.4M394.27,58.97v2.4M409.56,60.97v2.4M332.1,35.35v2.4M324.79,31.92v2.4M414.8,61.54v2.4M369.88,53.71v2.4M406.61,60.6v2.4M321.87,30.99v2.4M371.28,54.05v2.4M402.07,60.01v2.4M347.14,45.86v2.4M427.01,62.95v2.4M422.12,62.32v2.4M325.04,32v2.4M324.47,31.81v2.4M381.99,56.6v2.4M426.32,62.86v2.4M364.13,51.96v2.4M345.78,45.28v2.4M368.69,53.36v2.4M324.87,31.94v2.4M346.35,45.52v2.4M370.45,53.85v2.4M376.9,55.39v2.4M347.62,46.07v2.4M347.37,45.96v2.4M346.02,45.38v2.4M372.87,54.43v2.4M353.94,48.63v2.4M324.03,31.66v2.4M415,61.56v2.4M383.66,56.94v2.4M393.23,58.77v2.4M342.36,43.52v2.4M432.28,63.65v2.4M417.5,61.83v2.4M335.11,37.71v2.4M358.72,50.25v2.4M402.06,60.01v2.4M400.91,59.87v2.4M426.02,62.82v2.4M368.69,53.36v2.4M414.16,61.47v2.4M396.36,59.28v2.4M355.45,49.14v2.4M387.13,57.6v2.4M420.01,62.1v2.4M415.96,61.66v2.4M377.96,55.64v2.4M387.29,57.63v2.4M325.48,32.15v2.4M348.69,46.54v2.4M410.52,61.08v2.4M367.82,53.09v2.4M340.92,42.64v2.4M382.81,56.78v2.4M400,59.75v2.4M396.82,59.34v2.4M363.4,51.74v2.4M370.57,53.88v2.4M378.31,55.72v2.4M408.41,60.83v2.4M379.71,56.06v2.4M365.47,52.37v2.4" stroke="#356b52" stroke-width="0.6" opacity="0.8"/>
<path d="M312,31.4L312.11,31.4L312.72,31.4L313.32,31.4L313.93,31.4L314.54,31.4L315.15,31.4L315.76,31.4L316.36,31.4L316.97,31.4L317.58,31.4L318.19,31.4L318.8,31.4L319.4,31.48L320.01,31.63L320.62,31.78L321.23,31.93L321.84,32.08L322.44,32.23L323.05,32.4L323.66,32.57L324.27,32.75L324.88,32.93L325.48,33.1L326.09,33.28L326.7,33.46L327.31,33.7L327.92,33.94L328.53,34.18L329.13,34.42L329.74,34.67L330.35,34.91L330.96,35.2L331.57,35.57L332.17,35.95L332.78,36.33L333.39,36.71L334,37.08L334.61,37.54L335.21,38.06L335.82,38.59L336.43,39.12L337.04,39.65L337.65,40.18L338.25,40.71L338.86,41.09L339.47,41.44L340.08,41.79L340.69,42.15L341.29,42.5L341.9,42.85L342.51,43.13L343.12,43.4L343.73,43.68L344.33,43.96L344.94,44.23L345.55,44.5L346.16,44.73L346.77,44.96L347.37,45.2L347.98,45.43L348.59,45.66L349.2,45.89L349.81,46.12L350.41,46.35L351.02,46.58L351.63,46.81L352.24,47.02L352.85,47.2L353.45,47.38L354.06,47.56L354.67,47.74L355.28,47.92L355.89,48.1L356.49,48.29L357.1,48.47L357.71,48.65L358.32,48.83L358.93,49.01L359.54,49.19L360.14,49.37L360.75,49.53L361.36,49.7L361.97,49.86L362.58,50.02L363.18,50.18L363.79,50.35L364.4,50.51L365.01,50.67L365.62,50.84L366.22,51L366.83,51.16L367.44,51.33L368.05,51.49L368.66,51.65L369.26,51.82L369.87,51.97L370.48,52.1L371.09,52.23L371.7,52.35L372.3,52.48L372.91,52.61L373.52,52.73L374.13,52.86L374.74,52.99L375.34,53.12L375.95,53.24L376.56,53.37L377.17,53.5L377.78,53.62L378.38,53.75L378.99,53.88L379.6,54L380.21,54.13L380.82,54.26L381.42,54.38L382.03,54.51L382.64,54.63L383.25,54.73L383.86,54.83L384.46,54.93L385.07,55.03L385.68,55.14L386.29,55.24L386.9,55.34L387.5,55.44L388.11,55.54L388.72,55.64L389.33,55.75L389.94,55.85L390.55,55.95L391.15,56.05L391.76,56.15L392.37,56.25L392.98,56.35L393.59,56.46L394.19,56.56L394.8,56.66L395.41,56.74L396.02,56.81L396.63,56.88L397.23,56.95L397.84,57.02L398.45,57.08L399.06,57.15L399.67,57.22L400.27,57.29L400.88,57.36L401.49,57.42L402.1,57.49L402.71,57.56L403.31,57.63L403.92,57.7L404.53,57.76L405.14,57.83L405.75,57.9L406.35,57.97L406.96,58.04L407.57,58.1L408.18,58.17L408.79,58.24L409.39,58.31L410,58.37L410.61,58.43L411.22,58.49L411.83,58.54L412.43,58.6L413.04,58.66L413.65,58.71L414.26,58.77L414.87,58.83L415.47,58.88L416.08,58.94L416.69,59L417.3,59.06L417.91,59.11L418.52,59.17L419.12,59.23L419.73,59.28L420.34,59.34L420.95,59.4L421.56,59.45L422.16,59.51L422.77,59.57L423.38,59.63L423.99,59.7L424.6,59.77L425.2,59.84L425.81,59.92L426.42,59.99L427.03,60.06L427.64,60.13L428.24,60.2L428.85,60.27L429.46,60.34L430.07,60.41L430.68,60.48L431.28,60.55L431.89,60.62L432.5,60.69L433.11,60.76L433.61,60.76" fill="none" stroke="#2b4a87" stroke-width="1.5" stroke-linejoin="round"/>
<path d="M428.21,58.99v2.4M427.29,58.89v2.4M327.94,32.75v2.4M331.1,34.08v2.4M414.77,57.62v2.4M403.68,56.47v2.4M396.29,55.64v2.4M355.98,46.93v2.4M389.18,54.52v2.4M389.28,54.54v2.4M386.42,54.06v2.4M339.29,40.14v2.4M369.64,50.72v2.4M365.5,49.61v2.4M402.23,56.31v2.4M432.53,59.49v2.4M427.47,58.91v2.4M382.3,53.37v2.4M371.22,51.06v2.4M351.54,45.57v2.4M325.64,31.95v2.4M324.69,31.67v2.4M373.46,51.52v2.4M357.13,47.28v2.4M364,49.2v2.4M421.05,58.21v2.4M380.24,52.94v2.4M384.12,53.68v2.4M347.96,44.22v2.4M324.29,31.56v2.4M357.88,47.5v2.4M336.87,38.31v2.4M378.51,52.58v2.4M432.96,59.54v2.4M396.82,55.7v2.4M341.9,41.65v2.4M421.24,58.22v2.4M410.45,57.21v2.4M403.5,56.45v2.4M422.7,58.36v2.4M406.68,56.8v2.4M409.67,57.14v2.4M361.07,48.42v2.4M430.99,59.32v2.4M428.86,59.07v2.4M339.6,40.32v2.4M405.69,56.69v2.4M401.35,56.21v2.4M373.07,51.44v2.4M380.75,53.04v2.4M376.26,52.11v2.4M424.73,58.59v2.4M377.46,52.36v2.4M414.33,57.58v2.4M361.09,48.42v2.4M420.05,58.11v2.4M421.93,58.29v2.4M373.02,51.43v2.4M384.92,53.81v2.4M424.23,58.53v2.4M402.32,56.32v2.4M375.88,52.03v2.4M346.36,43.61v2.4M357.83,47.48v2.4M399.62,56.01v2.4M340.15,40.63v2.4M422.85,58.37v2.4M351.52,45.57v2.4M423.23,58.42v2.4M356.14,46.98v2.4" stroke="#2b4a87" stroke-width="0.6" opacity="0.8"/>
<path d="M312,31.4L312.11,31.4L312.72,31.4L313.32,31.4L313.93,31.4L314.54,31.4L315.15,31.4L315.76,31.4L316.36,31.4L316.97,31.4L317.58,31.4L318.19,31.4L318.8,31.4L319.4,31.48L320.01,31.63L320.62,31.79L321.23,31.94L321.84,32.09L322.44,32.25L323.05,32.42L323.66,32.6L324.27,32.78L324.88,32.96L325.48,33.14L326.09,33.32L326.7,33.5L327.31,33.74L327.92,33.99L328.53,34.24L329.13,34.49L329.74,34.73L330.35,34.98L330.96,35.27L331.57,35.66L332.17,36.04L332.78,36.43L333.39,36.81L334,37.2L334.61,37.66L335.21,38.2L335.82,38.74L336.43,39.28L337.04,39.82L337.65,40.36L338.25,40.9L338.86,41.29L339.47,41.65L340.08,42.01L340.69,42.37L341.29,42.72L341.9,43.08L342.51,43.37L343.12,43.65L343.73,43.93L344.33,44.21L344.94,44.5L345.55,44.77L346.16,45.01L346.77,45.24L347.37,45.48L347.98,45.71L348.59,45.95L349.2,46.18L349.81,46.42L350.41,46.65L351.02,46.89L351.63,47.12L352.24,47.34L352.85,47.52L353.45,47.71L354.06,47.89L354.67,48.08L355.28,48.26L355.89,48.45L356.49,48.63L357.1,48.81L357.71,49L358.32,49.18L358.93,49.37L359.54,49.55L360.14,49.74L360.75,49.9L361.36,50.07L361.97,50.24L362.58,50.4L363.18,50.57L363.79,50.73L364.4,50.9L365.01,51.07L365.62,51.23L366.22,51.4L366.83,51.57L367.44,51.73L368.05,51.9L368.66,52.07L369.26,52.23L369.87,52.39L370.48,52.52L371.09,52.65L371.7,52.78L372.3,52.91L372.91,53.04L373.52,53.17L374.13,53.3L374.74,53.43L375.34,53.56L375.95,53.69L376.56,53.82L377.17,53.95L377.78,54.08L378.38,54.21L378.99,54.33L379.6,54.46L380.21,54.59L380.82,54.72L381.42,54.85L382.03,54.98L382.64,55.1L383.25,55.21L383.86,55.31L384.46,55.41L385.07,55.52L385.68,55.62L386.29,55.72L386.9,55.83L387.5,55.93L388.11,56.03L388.72,56.14L389.33,56.24L389.94,56.35L390.55,56.45L391.15,56.55L391.76,56.66L392.37,56.76L392.98,56.86L393.59,56.97L394.19,57.07L394.8,57.17L395.41,57.26L396.02,57.33L396.63,57.4L397.23,57.47L397.84,57.54L398.45,57.61L399.06,57.68L399.67,57.75L400.27,57.82L400.88,57.89L401.49,57.95L402.1,58.02L402.71,58.09L403.31,58.16L403.92,58.23L404.53,58.3L405.14,58.37L405.75,58.44L406.35,58.51L406.96,58.58L407.57,58.65L408.18,58.72L408.79,58.79L409.39,58.86L410,58.92L410.61,58.98L411.22,59.04L411.83,59.1L412.43,59.15L413.04,59.21L413.65,59.27L414.26,59.33L414.87,59.39L415.47,59.45L416.08,59.5L416.69,59.56L417.3,59.62L417.91,59.68L418.52,59.74L419.12,59.79L419.73,59.85L420.34,59.91L420.95,59.97L421.56,60.03L422.16,60.08L422.77,60.14L423.38,60.21L423.99,60.28L424.6,60.35L425.2,60.43L425.81,60.5L426.42,60.57L427.03,60.64L427.64,60.71L428.24,60.78L428.85,60.86L429.46,60.93L430.07,61L430.68,61.07L431.28,61.14L431.89,61.22L432.5,61.29L433.11,61.36L433.61,61.36" fill="none" stroke="#56649c" stroke-width="1.5" stroke-linejoin="round"/>
<path d="M348.16,44.58v2.4M382.3,53.84v2.4M362.87,49.28v2.4M388.96,54.98v2.4M391.39,55.39v2.4M328.94,33.21v2.4M323.1,31.23v2.4M414.99,58.2v2.4M350.55,45.5v2.4M347.76,44.42v2.4M432.62,60.1v2.4M374.06,52.08v2.4M414.88,58.19v2.4M374.73,52.23v2.4M392.87,55.65v2.4M338.42,39.83v2.4M392.4,55.57v2.4M418.4,58.52v2.4M379.96,53.34v2.4M404.26,57.07v2.4M396.48,56.18v2.4M328.77,33.14v2.4M406.16,57.29v2.4M387.53,54.73v2.4M355.22,47.04v2.4M325.09,31.82v2.4M418.12,58.5v2.4M374.33,52.14v2.4M401.76,56.79v2.4M419.6,58.64v2.4M401.24,56.73v2.4M424.31,59.12v2.4M365.66,50.05v2.4M410.91,57.81v2.4M371.2,51.48v2.4M425.93,59.31v2.4M419.6,58.64v2.4M332.5,35.05v2.4M336.79,38.4v2.4M345.82,43.68v2.4M429.26,59.7v2.4M370.25,51.28v2.4M391.49,55.41v2.4M355.19,47.03v2.4M378.18,52.96v2.4M364.65,49.77v2.4M360.75,48.7v2.4M386.85,54.62v2.4M386.76,54.6v2.4M422.43,58.91v2.4M397.66,56.32v2.4M425.19,59.22v2.4M417.1,58.4v2.4M432.1,60.04v2.4M396.46,56.18v2.4M339.82,40.65v2.4M417.57,58.45v2.4M429.17,59.69v2.4M422.48,58.91v2.4M385.07,54.32v2.4M401.21,56.72v2.4M345.17,43.4v2.4M414.34,58.14v2.4M385.57,54.4v2.4M353.4,46.49v2.4M328.71,33.11v2.4M416.83,58.37v2.4M431.97,60.03v2.4M331.5,34.42v2.4M410.88,57.81v2.4" stroke="#56649c" stroke-width="0.6" opacity="0.8"/>
<path d="M312,31.4L312.11,31.4L312.72,31.4L313.32,31.4L313.93,31.4L314.54,31.4L315.15,31.4L315.76,31.4L316.36,31.4L316.97,31.4L317.58,31.4L318.19,31.4L318.8,31.4L319.4,31.48L320.01,31.64L320.62,31.8L321.23,31.96L321.84,32.11L322.44,32.27L323.05,32.45L323.66,32.63L324.27,32.82L324.88,33L325.48,33.19L326.09,33.37L326.7,33.56L327.31,33.81L327.92,34.07L328.53,34.32L329.13,34.58L329.74,34.83L330.35,35.09L330.96,35.39L331.57,35.79L332.17,36.18L332.78,36.58L333.39,36.98L334,37.37L334.61,37.85L335.21,38.4L335.82,38.96L336.43,39.52L337.04,40.07L337.65,40.63L338.25,41.18L338.86,41.58L339.47,41.95L340.08,42.32L340.69,42.69L341.29,43.06L341.9,43.43L342.51,43.73L343.12,44.02L343.73,44.31L344.33,44.6L344.94,44.89L345.55,45.17L346.16,45.41L346.77,45.66L347.37,45.9L347.98,46.14L348.59,46.38L349.2,46.63L349.81,46.87L350.41,47.11L351.02,47.35L351.63,47.59L352.24,47.82L352.85,48.01L353.45,48.2L354.06,48.39L354.67,48.58L355.28,48.77L355.89,48.96L356.49,49.15L357.1,49.34L357.71,49.53L358.32,49.72L358.93,49.91L359.54,50.1L360.14,50.29L360.75,50.46L361.36,50.63L361.97,50.8L362.58,50.97L363.18,51.14L363.79,51.31L364.4,51.49L365.01,51.66L365.62,51.83L366.22,52L366.83,52.17L367.44,52.34L368.05,52.52L368.66,52.69L369.26,52.86L369.87,53.02L370.48,53.16L371.09,53.29L371.7,53.42L372.3,53.56L372.91,53.69L373.52,53.82L374.13,53.96L374.74,54.09L375.34,54.22L375.95,54.36L376.56,54.49L377.17,54.62L377.78,54.76L378.38,54.89L378.99,55.02L379.6,55.16L380.21,55.29L380.82,55.42L381.42,55.56L382.03,55.69L382.64,55.81L383.25,55.92L383.86,56.03L384.46,56.13L385.07,56.24L385.68,56.35L386.29,56.45L386.9,56.56L387.5,56.67L388.11,56.77L388.72,56.88L389.33,56.99L389.94,57.09L390.55,57.2L391.15,57.31L391.76,57.41L392.37,57.52L392.98,57.63L393.59,57.73L394.19,57.84L394.8,57.95L395.41,58.04L396.02,58.11L396.63,58.18L397.23,58.25L397.84,58.32L398.45,58.39L399.06,58.47L399.67,58.54L400.27,58.61L400.88,58.68L401.49,58.75L402.1,58.82L402.71,58.89L403.31,58.97L403.92,59.04L404.53,59.11L405.14,59.18L405.75,59.25L406.35,59.32L406.96,59.39L407.57,59.47L408.18,59.54L408.79,59.61L409.39,59.68L410,59.75L410.61,59.81L411.22,59.87L411.83,59.93L412.43,59.99L413.04,60.05L413.65,60.11L414.26,60.17L414.87,60.23L415.47,60.29L416.08,60.35L416.69,60.41L417.3,60.47L417.91,60.53L418.52,60.59L419.12,60.65L419.73,60.71L420.34,60.77L420.95,60.83L421.56,60.88L422.16,60.94L422.77,61L423.38,61.07L423.99,61.15L424.6,61.22L425.2,61.3L425.81,61.37L426.42,61.44L427.03,61.52L427.64,61.59L428.24,61.67L428.85,61.74L429.46,61.81L430.07,61.89L430.68,61.96L431.28,62.04L431.89,62.11L432.5,62.18L433.11,62.26L433.61,62.26" fill="none" stroke="#69ab45" stroke-width="1.5" stroke-linejoin="round"/>
<path d="M347.95,44.93v2.4M333.13,35.61v2.4M365.78,50.68v2.4M338.91,40.41v2.4M329.05,33.34v2.4M366.4,50.85v2.4M423.96,59.94v2.4M410.86,58.63v2.4M406.93,58.19v2.4M346.37,44.3v2.4M381.46,54.36v2.4M352.48,46.69v2.4M340.88,41.61v2.4M333.47,35.83v2.4M345.53,43.97v2.4M425.02,60.07v2.4M414.04,58.95v2.4M411.55,58.7v2.4M410.86,58.63v2.4M343.2,42.85v2.4M356.17,47.85v2.4M391.53,56.17v2.4M403.22,57.75v2.4M416.91,59.23v2.4M419.74,59.51v2.4M331.3,34.41v2.4M389.17,55.76v2.4M396.51,56.97v2.4M378.03,53.61v2.4M341.45,41.96v2.4M374.43,52.82v2.4M331.59,34.6v2.4M425.82,60.17v2.4M418.11,59.35v2.4M382.68,54.62v2.4M355.1,47.51v2.4M422.95,59.82v2.4M385.44,55.1v2.4M419.99,59.53v2.4M416.17,59.15v2.4M378.3,53.67v2.4M367.78,51.24v2.4M388.4,55.62v2.4M369.68,51.78v2.4M339.62,40.84v2.4M355.65,47.68v2.4M412.22,58.77v2.4M326.45,32.28v2.4M326.8,32.4v2.4M391.46,56.16v2.4M352.9,46.82v2.4M381.23,54.31v2.4M374.17,52.76v2.4M359.85,48.99v2.4M432.8,61.02v2.4M343.44,42.97v2.4M367.65,51.2v2.4M344.23,43.35v2.4M392.16,56.28v2.4M352.43,46.68v2.4M361.3,49.41v2.4M404.9,57.95v2.4M357.38,48.22v2.4M383.9,54.83v2.4M422.44,59.77v2.4M332.89,35.45v2.4M328.5,33.11v2.4M347.15,44.61v2.4M406.93,58.19v2.4M390.24,55.95v2.4" stroke="#69ab45" stroke-width="0.6" opacity="0.8"/>
<path d="M312,31.4L312.11,31.4L312.72,31.4L313.32,31.4L313.93,31.4L314.54,31.4L315.15,31.4L315.76,31.4L316.36,31.4L316.97,31.4L317.58,31.4L318.19,31.4L318.8,31.4L319.4,31.52L320.01,31.75L320.62,31.99L321.23,32.22L321.84,32.46L322.44,32.69L323.05,32.95L323.66,33.23L324.27,33.5L324.88,33.78L325.48,34.05L326.09,34.32L326.7,34.6L327.31,34.98L327.92,35.35L328.53,35.73L329.13,36.11L329.74,36.48L330.35,36.86L330.96,37.31L331.57,37.89L332.17,38.48L332.78,39.07L333.39,39.66L334,40.24L334.61,40.95L335.21,41.77L335.82,42.59L336.43,43.42L337.04,44.24L337.65,45.06L338.25,45.88L338.86,46.48L339.47,47.03L340.08,47.57L340.69,48.12L341.29,48.67L341.9,49.22L342.51,49.65L343.12,50.08L343.73,50.51L344.33,50.94L344.94,51.37L345.55,51.79L346.16,52.15L346.77,52.51L347.37,52.87L347.98,53.23L348.59,53.58L349.2,53.94L349.81,54.3L350.41,54.66L351.02,55.02L351.63,55.38L352.24,55.71L352.85,55.99L353.45,56.27L354.06,56.55L354.67,56.83L355.28,57.11L355.89,57.39L356.49,57.68L357.1,57.96L357.71,58.24L358.32,58.52L358.93,58.8L359.54,59.08L360.14,59.36L360.75,59.62L361.36,59.87L361.97,60.12L362.58,60.38L363.18,60.63L363.79,60.89L364.4,61.14L365.01,61.39L365.62,61.65L366.22,61.9L366.83,62.15L367.44,62.41L368.05,62.66L368.66,62.92L369.26,63.17L369.87,63.42L370.48,63.61L371.09,63.81L371.7,64.01L372.3,64.2L372.91,64.4L373.52,64.6L374.13,64.8L374.74,64.99L375.34,65.19L375.95,65.39L376.56,65.59L377.17,65.78L377.78,65.98L378.38,66.18L378.99,66.38L379.6,66.57L380.21,66.77L380.82,66.97L381.42,67.17L382.03,67.36L382.64,67.55L383.25,67.7L383.86,67.86L384.46,68.02L385.07,68.18L385.68,68.34L386.29,68.49L386.9,68.65L387.5,68.81L388.11,68.97L388.72,69.13L389.33,69.28L389.94,69.44L390.55,69.6L391.15,69.76L391.76,69.92L392.37,70.07L392.98,70.23L393.59,70.39L394.19,70.55L394.8,70.7L395.41,70.84L396.02,70.94L396.63,71.05L397.23,71.15L397.84,71.26L398.45,71.37L399.06,71.47L399.67,71.58L400.27,71.68L400.88,71.79L401.49,71.9L402.1,72L402.71,72.11L403.31,72.21L403.92,72.32L404.53,72.42L405.14,72.53L405.75,72.64L406.35,72.74L406.96,72.85L407.57,72.95L408.18,73.06L408.79,73.17L409.39,73.27L410,73.37L410.61,73.46L411.22,73.55L411.83,73.64L412.43,73.73L413.04,73.81L413.65,73.9L414.26,73.99L414.87,74.08L415.47,74.17L416.08,74.26L416.69,74.35L417.3,74.43L417.91,74.52L418.52,74.61L419.12,74.7L419.73,74.79L420.34,74.88L420.95,74.97L421.56,75.05L422.16,75.14L422.77,75.23L423.38,75.33L423.99,75.44L424.6,75.55L425.2,75.66L425.81,75.77L426.42,75.88L427.03,75.99L427.64,76.1L428.24,76.21L428.85,76.32L429.46,76.43L430.07,76.54L430.68,76.65L431.28,76.76L431.89,76.87L432.5,76.98L433.11,77.09L433.61,77.09" fill="none" stroke="#e99b33" stroke-width="1.5" stroke-linejoin="round"/>
<path d="M391.07,68.54v2.4M404.32,71.19v2.4M410.28,72.21v2.4M426.69,74.73v2.4M404.11,71.15v2.4M424.45,74.33v2.4M324.87,32.57v2.4M373.54,63.41v2.4M426.79,74.75v2.4M393.98,69.29v2.4M422.06,73.93v2.4M334.25,39.29v2.4M373.92,63.53v2.4M349.12,52.7v2.4M382.25,66.23v2.4M385.61,67.12v2.4M323.1,31.77v2.4M345.79,50.73v2.4M352.79,54.76v2.4M423.78,74.21v2.4M406.99,71.65v2.4M339.43,45.79v2.4M410.5,72.24v2.4M337.1,43.13v2.4M390.46,68.38v2.4M335.76,41.31v2.4M321.83,31.26v2.4M418.77,73.45v2.4M344.98,50.2v2.4M345.65,50.65v2.4M431.15,75.54v2.4M418.88,73.47v2.4M353.88,55.27v2.4M428.81,75.11v2.4M381.74,66.07v2.4M397.19,69.95v2.4M344.46,49.83v2.4M426.53,74.7v2.4M398.62,70.2v2.4M429.38,75.22v2.4M421.26,73.81v2.4M354.94,55.76v2.4M361.9,58.89v2.4M340.13,46.42v2.4M337.88,44.17v2.4M328.9,34.76v2.4M355.23,55.89v2.4M388.87,67.96v2.4M322.01,31.32v2.4M397.21,69.95v2.4M359.3,57.77v2.4M356.19,56.33v2.4M412.88,72.59v2.4M375.22,63.95v2.4M356.84,56.63v2.4M375.28,63.97v2.4M400.19,70.47v2.4M327.99,34.2v2.4M430.33,75.39v2.4M324.18,32.26v2.4M405.22,71.34v2.4M415.82,73.02v2.4M323.65,32.02v2.4M409.45,72.08v2.4M362.45,59.13v2.4M386.12,67.25v2.4M322.65,31.57v2.4M326.84,33.49v2.4M341.8,47.93v2.4M428.11,74.99v2.4" stroke="#e99b33" stroke-width="0.6" opacity="0.8"/>
<path d="M312,31.4L312.11,31.4L312.72,31.4L313.32,31.4L313.93,31.4L314.54,31.4L315.15,31.4L315.76,31.4L316.36,31.4L316.97,31.4L317.58,31.4L318.19,31.4L318.8,31.4L319.4,31.51L320.01,31.74L320.62,31.97L321.23,32.2L321.84,32.42L322.44,32.65L323.05,32.9L323.66,33.17L324.27,33.43L324.88,33.7L325.48,33.96L326.09,34.23L326.7,34.49L327.31,34.86L327.92,35.22L328.53,35.59L329.13,35.95L329.74,36.32L330.35,36.68L330.96,37.11L331.57,37.68L332.17,38.25L332.78,38.82L333.39,39.39L334,39.95L334.61,40.64L335.21,41.43L335.82,42.23L336.43,43.02L337.04,43.82L337.65,44.61L338.25,45.41L338.86,45.98L339.47,46.51L340.08,47.04L340.69,47.57L341.29,48.1L341.9,48.63L342.51,49.05L343.12,49.47L343.73,49.88L344.33,50.3L344.94,50.72L345.55,51.12L346.16,51.47L346.77,51.82L347.37,52.16L347.98,52.51L348.59,52.86L349.2,53.2L349.81,53.55L350.41,53.9L351.02,54.24L351.63,54.59L352.24,54.91L352.85,55.18L353.45,55.46L354.06,55.73L354.67,56L355.28,56.27L355.89,56.54L356.49,56.81L357.1,57.09L357.71,57.36L358.32,57.63L358.93,57.9L359.54,58.17L360.14,58.44L360.75,58.69L361.36,58.94L361.97,59.18L362.58,59.43L363.18,59.67L363.79,59.92L364.4,60.16L365.01,60.41L365.62,60.66L366.22,60.9L366.83,61.15L367.44,61.39L368.05,61.64L368.66,61.88L369.26,62.13L369.87,62.37L370.48,62.56L371.09,62.75L371.7,62.94L372.3,63.13L372.91,63.32L373.52,63.51L374.13,63.7L374.74,63.89L375.34,64.08L375.95,64.27L376.56,64.47L377.17,64.66L377.78,64.85L378.38,65.04L378.99,65.23L379.6,65.42L380.21,65.61L380.82,65.8L381.42,65.99L382.03,66.18L382.64,66.36L383.25,66.51L383.86,66.67L384.46,66.82L385.07,66.97L385.68,67.13L386.29,67.28L386.9,67.43L387.5,67.58L388.11,67.74L388.72,67.89L389.33,68.04L389.94,68.19L390.55,68.35L391.15,68.5L391.76,68.65L392.37,68.81L392.98,68.96L393.59,69.11L394.19,69.26L394.8,69.42L395.41,69.54L396.02,69.65L396.63,69.75L397.23,69.85L397.84,69.95L398.45,70.06L399.06,70.16L399.67,70.26L400.27,70.36L400.88,70.47L401.49,70.57L402.1,70.67L402.71,70.77L403.31,70.88L403.92,70.98L404.53,71.08L405.14,71.18L405.75,71.28L406.35,71.39L406.96,71.49L407.57,71.59L408.18,71.69L408.79,71.8L409.39,71.9L410,72L410.61,72.08L411.22,72.17L411.83,72.25L412.43,72.34L413.04,72.42L413.65,72.51L414.26,72.6L414.87,72.68L415.47,72.77L416.08,72.85L416.69,72.94L417.3,73.02L417.91,73.11L418.52,73.2L419.12,73.28L419.73,73.37L420.34,73.45L420.95,73.54L421.56,73.62L422.16,73.71L422.77,73.79L423.38,73.89L423.99,74L424.6,74.11L425.2,74.21L425.81,74.32L426.42,74.42L427.03,74.53L427.64,74.64L428.24,74.74L428.85,74.85L429.46,74.95L430.07,75.06L430.68,75.17L431.28,75.27L431.89,75.38L432.5,75.48L433.11,75.59L433.61,75.59" fill="none" stroke="#f1c232" stroke-width="1.5" stroke-linejoin="round"/>
<path d="M410.07,70.81v2.4M413.26,71.25v2.4M375.7,63v2.4M350.8,52.92v2.4M321.68,31.17v2.4M395.52,68.36v2.4M374.06,62.48v2.4M406.32,70.18v2.4M363.23,58.49v2.4M407.48,70.38v2.4M352.03,53.62v2.4M411.03,70.94v2.4M402.99,69.62v2.4M367.78,60.33v2.4M381.64,64.86v2.4M397.67,68.72v2.4M343.15,48.29v2.4M383.35,65.34v2.4M411.38,70.99v2.4M351.23,53.16v2.4M411.19,70.96v2.4M398.07,68.79v2.4M415.75,71.61v2.4M359.04,56.75v2.4M332.02,36.9v2.4M410.84,70.91v2.4M411.35,70.99v2.4M371.26,61.6v2.4M332.09,36.97v2.4M343.61,48.61v2.4M392.41,67.62v2.4M354.09,54.54v2.4M427.69,73.45v2.4M387.24,66.32v2.4M344.03,48.89v2.4M394.69,68.19v2.4M361.81,57.92v2.4M425.61,73.08v2.4M423.02,72.63v2.4M379,64.03v2.4M393.49,67.89v2.4M399.43,69.02v2.4M411.43,71v2.4M430.47,73.93v2.4M324.8,32.47v2.4M361.92,57.96v2.4M388.71,66.69v2.4M355.56,55.2v2.4M387.31,66.33v2.4M331.63,36.54v2.4M419.74,72.17v2.4M380.19,64.4v2.4M334.66,39.5v2.4M395.51,68.36v2.4M356.45,55.59v2.4M343.51,48.53v2.4M375.56,62.95v2.4M337.03,42.61v2.4M345.03,49.58v2.4M418.12,71.94v2.4M399.47,69.03v2.4M323.03,31.69v2.4M408.37,70.53v2.4M323.54,31.91v2.4M358.75,56.62v2.4M422.46,72.55v2.4M390.78,67.21v2.4M355.76,55.29v2.4M363.7,58.68v2.4M365.02,59.21v2.4" stroke="#f1c232" stroke-width="0.6" opacity="0.8"/>
<path d="M312,31.4L312.11,31.4L312.72,31.4L313.32,31.4L313.93,31.4L314.54,31.4L315.15,31.4L315.76,31.4L316.36,31.4L316.97,31.4L317.58,31.4L318.19,31.4L318.8,31.4L319.4,31.52L320.01,31.76L320.62,32.01L321.23,32.25L321.84,32.49L322.44,32.73L323.05,33L323.66,33.29L324.27,33.57L324.88,33.85L325.48,34.14L326.09,34.42L326.7,34.7L327.31,35.09L327.92,35.48L328.53,35.87L329.13,36.26L329.74,36.65L330.35,37.04L330.96,37.5L331.57,38.11L332.17,38.71L332.78,39.32L333.39,39.93L334,40.53L334.61,41.26L335.21,42.11L335.82,42.96L336.43,43.81L337.04,44.66L337.65,45.51L338.25,46.36L338.86,46.97L339.47,47.54L340.08,48.1L340.69,48.67L341.29,49.24L341.9,49.8L342.51,50.25L343.12,50.69L343.73,51.14L344.33,51.58L344.94,52.03L345.55,52.46L346.16,52.83L346.77,53.2L347.37,53.57L347.98,53.94L348.59,54.31L349.2,54.68L349.81,55.05L350.41,55.42L351.02,55.79L351.63,56.16L352.24,56.51L352.85,56.8L353.45,57.09L354.06,57.38L354.67,57.67L355.28,57.96L355.89,58.25L356.49,58.54L357.1,58.83L357.71,59.12L358.32,59.41L358.93,59.7L359.54,59.99L360.14,60.28L360.75,60.54L361.36,60.8L361.97,61.07L362.58,61.33L363.18,61.59L363.79,61.85L364.4,62.11L365.01,62.38L365.62,62.64L366.22,62.9L366.83,63.16L367.44,63.43L368.05,63.69L368.66,63.95L369.26,64.21L369.87,64.46L370.48,64.67L371.09,64.87L371.7,65.08L372.3,65.28L372.91,65.48L373.52,65.69L374.13,65.89L374.74,66.1L375.34,66.3L375.95,66.5L376.56,66.71L377.17,66.91L377.78,67.11L378.38,67.32L378.99,67.52L379.6,67.73L380.21,67.93L380.82,68.13L381.42,68.34L382.03,68.54L382.64,68.73L383.25,68.9L383.86,69.06L384.46,69.22L385.07,69.38L385.68,69.55L386.29,69.71L386.9,69.87L387.5,70.04L388.11,70.2L388.72,70.36L389.33,70.53L389.94,70.69L390.55,70.85L391.15,71.02L391.76,71.18L392.37,71.34L392.98,71.5L393.59,71.67L394.19,71.83L394.8,71.99L395.41,72.13L396.02,72.24L396.63,72.35L397.23,72.46L397.84,72.57L398.45,72.68L399.06,72.79L399.67,72.9L400.27,73L400.88,73.11L401.49,73.22L402.1,73.33L402.71,73.44L403.31,73.55L403.92,73.66L404.53,73.77L405.14,73.88L405.75,73.99L406.35,74.1L406.96,74.21L407.57,74.32L408.18,74.43L408.79,74.54L409.39,74.64L410,74.75L410.61,74.84L411.22,74.93L411.83,75.02L412.43,75.11L413.04,75.21L413.65,75.3L414.26,75.39L414.87,75.48L415.47,75.57L416.08,75.66L416.69,75.75L417.3,75.85L417.91,75.94L418.52,76.03L419.12,76.12L419.73,76.21L420.34,76.3L420.95,76.39L421.56,76.49L422.16,76.58L422.77,76.67L423.38,76.78L423.99,76.89L424.6,77L425.2,77.11L425.81,77.23L426.42,77.34L427.03,77.45L427.64,77.57L428.24,77.68L428.85,77.79L429.46,77.91L430.07,78.02L430.68,78.13L431.28,78.25L431.89,78.36L432.5,78.47L433.11,78.59L433.61,78.59" fill="none" stroke="#b41c45" stroke-width="1.5" stroke-linejoin="round"/>
<path d="M357.73,57.93v2.4M338.45,45.39v2.4M394.2,70.63v2.4M329.71,35.43v2.4M381.37,67.12v2.4M362.4,60.05v2.4M328.1,34.4v2.4M378.2,66.06v2.4M325.81,33.09v2.4M369.97,63.3v2.4M329.42,35.24v2.4M331.75,37.09v2.4M368.96,62.88v2.4M413.81,74.12v2.4M335.43,41.22v2.4M346.52,51.85v2.4M391.58,69.93v2.4M427.28,76.3v2.4M385.97,68.42v2.4M365.85,61.54v2.4M430.46,76.89v2.4M326.83,33.58v2.4M417.33,74.65v2.4M353.92,56.11v2.4M337.71,44.41v2.4M334.76,40.28v2.4M356.02,57.11v2.4M412.61,73.94v2.4M341.78,48.49v2.4M386.47,68.56v2.4M392.86,70.27v2.4M363.15,60.37v2.4M382.69,67.55v2.4M328.63,34.74v2.4M328.28,34.51v2.4M344.59,50.57v2.4M397.48,71.3v2.4M369.3,63.03v2.4M356.65,57.41v2.4M386.91,68.68v2.4M372.15,64.03v2.4M355.05,56.65v2.4M410.19,73.58v2.4M399.55,71.68v2.4M348.84,53.27v2.4M385.67,68.34v2.4M380.18,66.72v2.4M419.19,74.93v2.4M402.95,72.29v2.4M353.73,56.02v2.4M430.9,76.98v2.4M334.8,40.33v2.4M368.24,62.57v2.4M406.04,72.84v2.4M338.58,45.51v2.4M376.14,65.37v2.4M326,33.18v2.4M396.12,71.06v2.4M406.86,72.99v2.4M385.51,68.3v2.4M419.23,74.94v2.4M356.61,57.39v2.4M399.14,71.6v2.4M387.89,68.94v2.4M386.28,68.51v2.4M372.49,64.14v2.4M415.27,74.34v2.4M426.94,76.24v2.4M374.48,64.81v2.4M395.67,70.98v2.4" stroke="#b41c45" stroke-width="0.6" opacity="0.8"/>
<text x="256.4" y="238.8" font-size="12.5" text-anchor="start" fill="#111" font-weight="bold" stroke="#111" stroke-width="0.55">C</text>
<line x1="305.4" y1="244.8" x2="305.4" y2="410.6" stroke="#141414" stroke-width="1.5" />
<line x1="304.6" y1="409.8" x2="444.3" y2="409.8" stroke="#141414" stroke-width="1.5" />
<line x1="302.2" y1="252.4" x2="305.4" y2="252.4" stroke="#333" stroke-width="0.9" />
<text x="299.5" y="255.4" font-size="8.4" text-anchor="end" fill="#1a1a1a" font-weight="normal"  stroke="#1a1a1a" stroke-width="0.18">1.00</text>
<line x1="302.2" y1="289.85" x2="305.4" y2="289.85" stroke="#333" stroke-width="0.9" />
<text x="299.5" y="292.85" font-size="8.4" text-anchor="end" fill="#1a1a1a" font-weight="normal"  stroke="#1a1a1a" stroke-width="0.18">0.75</text>
<line x1="302.2" y1="327.3" x2="305.4" y2="327.3" stroke="#333" stroke-width="0.9" />
<text x="299.5" y="330.3" font-size="8.4" text-anchor="end" fill="#1a1a1a" font-weight="normal"  stroke="#1a1a1a" stroke-width="0.18">0.50</text>
<line x1="302.2" y1="364.75" x2="305.4" y2="364.75" stroke="#333" stroke-width="0.9" />
<text x="299.5" y="367.75" font-size="8.4" text-anchor="end" fill="#1a1a1a" font-weight="normal"  stroke="#1a1a1a" stroke-width="0.18">0.25</text>
<line x1="302.2" y1="402.2" x2="305.4" y2="402.2" stroke="#333" stroke-width="0.9" />
<text x="299.5" y="405.2" font-size="8.4" text-anchor="end" fill="#1a1a1a" font-weight="normal"  stroke="#1a1a1a" stroke-width="0.18">0.00</text>
<line x1="311.5" y1="409.8" x2="311.5" y2="412.8" stroke="#333" stroke-width="0.9" />
<text x="311.5" y="423.9" font-size="8.4" text-anchor="middle" fill="#1a1a1a" font-weight="normal"  stroke="#1a1a1a" stroke-width="0.18">0</text>
<line x1="326.7" y1="409.8" x2="326.7" y2="412.8" stroke="#333" stroke-width="0.9" />
<text x="326.7" y="423.9" font-size="8.4" text-anchor="middle" fill="#1a1a1a" font-weight="normal"  stroke="#1a1a1a" stroke-width="0.18">3</text>
<line x1="341.9" y1="409.8" x2="341.9" y2="412.8" stroke="#333" stroke-width="0.9" />
<text x="341.9" y="423.9" font-size="8.4" text-anchor="middle" fill="#1a1a1a" font-weight="normal"  stroke="#1a1a1a" stroke-width="0.18">6</text>
<line x1="357.1" y1="409.8" x2="357.1" y2="412.8" stroke="#333" stroke-width="0.9" />
<text x="357.1" y="423.9" font-size="8.4" text-anchor="middle" fill="#1a1a1a" font-weight="normal"  stroke="#1a1a1a" stroke-width="0.18">9</text>
<line x1="372.3" y1="409.8" x2="372.3" y2="412.8" stroke="#333" stroke-width="0.9" />
<text x="372.3" y="423.9" font-size="8.4" text-anchor="middle" fill="#1a1a1a" font-weight="normal"  stroke="#1a1a1a" stroke-width="0.18">12</text>
<line x1="387.5" y1="409.8" x2="387.5" y2="412.8" stroke="#333" stroke-width="0.9" />
<text x="387.5" y="423.9" font-size="8.4" text-anchor="middle" fill="#1a1a1a" font-weight="normal"  stroke="#1a1a1a" stroke-width="0.18">15</text>
<line x1="402.71" y1="409.8" x2="402.71" y2="412.8" stroke="#333" stroke-width="0.9" />
<text x="402.71" y="423.9" font-size="8.4" text-anchor="middle" fill="#1a1a1a" font-weight="normal"  stroke="#1a1a1a" stroke-width="0.18">18</text>
<line x1="417.91" y1="409.8" x2="417.91" y2="412.8" stroke="#333" stroke-width="0.9" />
<text x="417.91" y="423.9" font-size="8.4" text-anchor="middle" fill="#1a1a1a" font-weight="normal"  stroke="#1a1a1a" stroke-width="0.18">21</text>
<line x1="433.11" y1="409.8" x2="433.11" y2="412.8" stroke="#333" stroke-width="0.9" />
<text x="433.11" y="423.9" font-size="8.4" text-anchor="middle" fill="#1a1a1a" font-weight="normal"  stroke="#1a1a1a" stroke-width="0.18">24</text>
<text x="374.85" y="437" font-size="9" text-anchor="middle" fill="#1a1a1a" stroke="#1a1a1a" stroke-width="0.45" textLength="44.1" lengthAdjust="spacingAndGlyphs">Time (months)</text>
<text transform="translate(276.3,327.3) rotate(-90)" x="0" y="0" font-size="9" text-anchor="middle" fill="#1a1a1a" stroke="#1a1a1a" stroke-width="0.45" textLength="57.1" lengthAdjust="spacingAndGlyphs">Survival probability</text>
<path d="M312,252.3L312.11,252.3L312.72,252.3L313.32,252.3L313.93,252.3L314.54,252.3L315.15,252.3L315.76,252.3L316.36,252.3L316.97,252.3L317.58,252.3L318.19,252.3L318.8,252.3L319.4,252.36L320.01,252.47L320.62,252.58L321.23,252.69L321.84,252.8L322.44,252.91L323.05,253.03L323.66,253.16L324.27,253.29L324.88,253.42L325.48,253.55L326.09,253.67L326.7,253.8L327.31,253.98L327.92,254.16L328.53,254.34L329.13,254.51L329.74,254.69L330.35,254.87L330.96,255.08L331.57,255.35L332.17,255.63L332.78,255.91L333.39,256.18L334,256.46L334.61,256.79L335.21,257.18L335.82,257.56L336.43,257.95L337.04,258.34L337.65,258.72L338.25,259.11L338.86,259.39L339.47,259.65L340.08,259.9L340.69,260.16L341.29,260.42L341.9,260.68L342.51,260.88L343.12,261.08L343.73,261.28L344.33,261.49L344.94,261.69L345.55,261.89L346.16,262.05L346.77,262.22L347.37,262.39L347.98,262.56L348.59,262.73L349.2,262.9L349.81,263.07L350.41,263.23L351.02,263.4L351.63,263.57L352.24,263.73L352.85,263.86L353.45,263.99L354.06,264.12L354.67,264.26L355.28,264.39L355.89,264.52L356.49,264.65L357.1,264.78L357.71,264.92L358.32,265.05L358.93,265.18L359.54,265.31L360.14,265.44L360.75,265.56L361.36,265.68L361.97,265.8L362.58,265.92L363.18,266.04L363.79,266.16L364.4,266.28L365.01,266.4L365.62,266.52L366.22,266.64L366.83,266.76L367.44,266.88L368.05,267L368.66,267.12L369.26,267.24L369.87,267.35L370.48,267.44L371.09,267.54L371.7,267.63L372.3,267.72L372.91,267.81L373.52,267.91L374.13,268L374.74,268.09L375.34,268.19L375.95,268.28L376.56,268.37L377.17,268.46L377.78,268.56L378.38,268.65L378.99,268.74L379.6,268.84L380.21,268.93L380.82,269.02L381.42,269.11L382.03,269.21L382.64,269.29L383.25,269.37L383.86,269.44L384.46,269.52L385.07,269.59L385.68,269.66L386.29,269.74L386.9,269.81L387.5,269.89L388.11,269.96L388.72,270.04L389.33,270.11L389.94,270.18L390.55,270.26L391.15,270.33L391.76,270.41L392.37,270.48L392.98,270.55L393.59,270.63L394.19,270.7L394.8,270.78L395.41,270.84L396.02,270.89L396.63,270.94L397.23,270.99L397.84,271.04L398.45,271.09L399.06,271.14L399.67,271.19L400.27,271.24L400.88,271.29L401.49,271.34L402.1,271.39L402.71,271.44L403.31,271.49L403.92,271.54L404.53,271.59L405.14,271.64L405.75,271.69L406.35,271.74L406.96,271.79L407.57,271.83L408.18,271.88L408.79,271.93L409.39,271.98L410,272.03L410.61,272.07L411.22,272.11L411.83,272.16L412.43,272.2L413.04,272.24L413.65,272.28L414.26,272.32L414.87,272.36L415.47,272.41L416.08,272.45L416.69,272.49L417.3,272.53L417.91,272.57L418.52,272.61L419.12,272.66L419.73,272.7L420.34,272.74L420.95,272.78L421.56,272.82L422.16,272.86L422.77,272.91L423.38,272.95L423.99,273.01L424.6,273.06L425.2,273.11L425.81,273.16L426.42,273.21L427.03,273.26L427.64,273.31L428.24,273.37L428.85,273.42L429.46,273.47L430.07,273.52L430.68,273.57L431.28,273.62L431.89,273.68L432.5,273.73L433.11,273.78L433.61,273.78" fill="none" stroke="#e99b33" stroke-width="1.5" stroke-linejoin="round"/>
<path d="M385.33,268.42v2.4M369.44,266.07v2.4M386.08,268.51v2.4M344.61,260.38v2.4M412.3,270.99v2.4M413.44,271.07v2.4M394.48,269.54v2.4M339.5,258.46v2.4M379.68,267.65v2.4M358.17,263.82v2.4M349.5,261.78v2.4M427.85,272.13v2.4M432.72,272.55v2.4M326.6,252.58v2.4M417.52,271.35v2.4M388.87,268.85v2.4M364.17,265.04v2.4M353.25,262.75v2.4M396.88,269.76v2.4M372.56,266.56v2.4M398.09,269.86v2.4M395.41,269.64v2.4M336.46,256.77v2.4M407.23,270.61v2.4M431.15,272.41v2.4M429.7,272.29v2.4M390,268.99v2.4M326.57,252.58v2.4M322.09,251.64v2.4M336.57,256.84v2.4M426.53,272.02v2.4M355.4,263.21v2.4M362.45,264.7v2.4M421.76,271.64v2.4M356.68,263.49v2.4M382.83,268.12v2.4M370.24,266.21v2.4M328.88,253.24v2.4M386.8,268.6v2.4M415.73,271.22v2.4M339.07,258.28v2.4M346.64,260.99v2.4M367.66,265.72v2.4M325.75,252.4v2.4M376.99,267.24v2.4M412.82,271.02v2.4M394.97,269.6v2.4M381.1,267.86v2.4M416.96,271.31v2.4M338.32,257.95v2.4M384.87,268.36v2.4M363.34,264.87v2.4M388.66,268.83v2.4M334.22,255.36v2.4M408.08,270.68v2.4M332.4,254.53v2.4M340.18,258.75v2.4M411.64,270.94v2.4M427.28,272.08v2.4M369.93,266.16v2.4M367.79,265.75v2.4M349,261.64v2.4M352.26,262.53v2.4M390.44,269.05v2.4M341.53,259.32v2.4M334.95,255.81v2.4M372.44,266.54v2.4M340.02,258.68v2.4M393.95,269.47v2.4M413.16,271.05v2.4" stroke="#e99b33" stroke-width="0.6" opacity="0.8"/>
<path d="M312,252.3L312.11,252.3L312.72,252.3L313.32,252.3L313.93,252.3L314.54,252.3L315.15,252.3L315.76,252.3L316.36,252.3L316.97,252.3L317.58,252.3L318.19,252.3L318.8,252.3L319.4,252.35L320.01,252.45L320.62,252.56L321.23,252.66L321.84,252.76L322.44,252.87L323.05,252.98L323.66,253.1L324.27,253.22L324.88,253.34L325.48,253.46L326.09,253.58L326.7,253.7L327.31,253.86L327.92,254.03L328.53,254.19L329.13,254.36L329.74,254.52L330.35,254.69L330.96,254.88L331.57,255.14L332.17,255.4L332.78,255.65L333.39,255.91L334,256.17L334.61,256.48L335.21,256.83L335.82,257.19L336.43,257.55L337.04,257.91L337.65,258.27L338.25,258.63L338.86,258.89L339.47,259.13L340.08,259.37L340.69,259.61L341.29,259.85L341.9,260.09L342.51,260.28L343.12,260.47L343.73,260.66L344.33,260.84L344.94,261.03L345.55,261.22L346.16,261.37L346.77,261.53L347.37,261.69L347.98,261.84L348.59,262L349.2,262.16L349.81,262.31L350.41,262.47L351.02,262.63L351.63,262.78L352.24,262.93L352.85,263.05L353.45,263.17L354.06,263.3L354.67,263.42L355.28,263.54L355.89,263.67L356.49,263.79L357.1,263.91L357.71,264.03L358.32,264.16L358.93,264.28L359.54,264.4L360.14,264.53L360.75,264.64L361.36,264.75L361.97,264.86L362.58,264.97L363.18,265.08L363.79,265.19L364.4,265.3L365.01,265.41L365.62,265.52L366.22,265.64L366.83,265.75L367.44,265.86L368.05,265.97L368.66,266.08L369.26,266.19L369.87,266.3L370.48,266.38L371.09,266.47L371.7,266.56L372.3,266.64L372.91,266.73L373.52,266.82L374.13,266.9L374.74,266.99L375.34,267.07L375.95,267.16L376.56,267.25L377.17,267.33L377.78,267.42L378.38,267.51L378.99,267.59L379.6,267.68L380.21,267.77L380.82,267.85L381.42,267.94L382.03,268.02L382.64,268.1L383.25,268.17L383.86,268.24L384.46,268.31L385.07,268.38L385.68,268.45L386.29,268.52L386.9,268.59L387.5,268.66L388.11,268.73L388.72,268.79L389.33,268.86L389.94,268.93L390.55,269L391.15,269.07L391.76,269.14L392.37,269.21L392.98,269.28L393.59,269.35L394.19,269.42L394.8,269.49L395.41,269.54L396.02,269.59L396.63,269.64L397.23,269.68L397.84,269.73L398.45,269.77L399.06,269.82L399.67,269.87L400.27,269.91L400.88,269.96L401.49,270.01L402.1,270.05L402.71,270.1L403.31,270.14L403.92,270.19L404.53,270.24L405.14,270.28L405.75,270.33L406.35,270.38L406.96,270.42L407.57,270.47L408.18,270.52L408.79,270.56L409.39,270.61L410,270.65L410.61,270.69L411.22,270.73L411.83,270.77L412.43,270.81L413.04,270.85L413.65,270.88L414.26,270.92L414.87,270.96L415.47,271L416.08,271.04L416.69,271.08L417.3,271.12L417.91,271.15L418.52,271.19L419.12,271.23L419.73,271.27L420.34,271.31L420.95,271.35L421.56,271.39L422.16,271.43L422.77,271.46L423.38,271.51L423.99,271.56L424.6,271.61L425.2,271.65L425.81,271.7L426.42,271.75L427.03,271.8L427.64,271.85L428.24,271.89L428.85,271.94L429.46,271.99L430.07,272.04L430.68,272.08L431.28,272.13L431.89,272.18L432.5,272.23L433.11,272.28L433.61,272.28" fill="none" stroke="#f1c232" stroke-width="1.5" stroke-linejoin="round"/>
<path d="M372.06,265.41v2.4M384.03,267.06v2.4M424.66,270.41v2.4M373.54,265.62v2.4M378.25,266.29v2.4M387.11,267.41v2.4M342.22,258.99v2.4M378.7,266.35v2.4M391.85,267.95v2.4M410.03,269.45v2.4M332.13,254.18v2.4M355.46,262.38v2.4M331.74,254.01v2.4M411.89,269.57v2.4M398.93,268.61v2.4M326.3,252.42v2.4M431.12,270.92v2.4M429.18,270.77v2.4M394.53,268.25v2.4M390.25,267.77v2.4M339.19,257.82v2.4M323.31,251.83v2.4M380.53,266.61v2.4M328.27,252.92v2.4M342.84,259.18v2.4M348.6,260.8v2.4M324.99,252.16v2.4M373.35,265.59v2.4M370.74,265.22v2.4M415.54,269.8v2.4M379.5,266.46v2.4M393.01,268.08v2.4M377.35,266.16v2.4M395.48,268.35v2.4M372.61,265.49v2.4M352.64,261.81v2.4M432.85,271.06v2.4M432.63,271.04v2.4M415.3,269.79v2.4M400.54,268.73v2.4M356.78,262.65v2.4M347.24,260.45v2.4M353.85,262.06v2.4M329.46,253.25v2.4M407.06,269.23v2.4M366.27,264.44v2.4M416.01,269.83v2.4M364.72,264.16v2.4M428.43,270.71v2.4M416.09,269.84v2.4M321.69,251.54v2.4M345.01,259.85v2.4M423.11,270.29v2.4M374.03,265.69v2.4M430.92,270.9v2.4M365.94,264.38v2.4M329.78,253.33v2.4M391.8,267.94v2.4M408.42,269.33v2.4M351.71,261.6v2.4M331.35,253.85v2.4M358.71,263.04v2.4M429.1,270.76v2.4M406.14,269.16v2.4M334.79,255.38v2.4M349.1,260.93v2.4M332.9,254.5v2.4M328.31,252.93v2.4M410.48,269.48v2.4M341.44,258.71v2.4" stroke="#f1c232" stroke-width="0.6" opacity="0.8"/>
<path d="M312,252.3L312.11,252.3L312.72,252.3L313.32,252.3L313.93,252.3L314.54,252.3L315.15,252.3L315.76,252.3L316.36,252.3L316.97,252.3L317.58,252.3L318.19,252.3L318.8,252.3L319.4,252.34L320.01,252.43L320.62,252.51L321.23,252.6L321.84,252.69L322.44,252.77L323.05,252.87L323.66,252.97L324.27,253.07L324.88,253.17L325.48,253.27L326.09,253.37L326.7,253.47L327.31,253.6L327.92,253.74L328.53,253.88L329.13,254.02L329.74,254.15L330.35,254.29L330.96,254.46L331.57,254.67L332.17,254.88L332.78,255.1L333.39,255.31L334,255.53L334.61,255.78L335.21,256.08L335.82,256.38L336.43,256.68L337.04,256.98L337.65,257.28L338.25,257.59L338.86,257.8L339.47,258L340.08,258.2L340.69,258.4L341.29,258.6L341.9,258.8L342.51,258.96L343.12,259.12L343.73,259.27L344.33,259.43L344.94,259.59L345.55,259.74L346.16,259.87L346.77,260L347.37,260.13L347.98,260.26L348.59,260.39L349.2,260.53L349.81,260.66L350.41,260.79L351.02,260.92L351.63,261.05L352.24,261.17L352.85,261.27L353.45,261.38L354.06,261.48L354.67,261.58L355.28,261.68L355.89,261.79L356.49,261.89L357.1,261.99L357.71,262.09L358.32,262.2L358.93,262.3L359.54,262.4L360.14,262.5L360.75,262.6L361.36,262.69L361.97,262.78L362.58,262.87L363.18,262.97L363.79,263.06L364.4,263.15L365.01,263.24L365.62,263.34L366.22,263.43L366.83,263.52L367.44,263.62L368.05,263.71L368.66,263.8L369.26,263.89L369.87,263.98L370.48,264.05L371.09,264.13L371.7,264.2L372.3,264.27L372.91,264.34L373.52,264.41L374.13,264.49L374.74,264.56L375.34,264.63L375.95,264.7L376.56,264.77L377.17,264.85L377.78,264.92L378.38,264.99L378.99,265.06L379.6,265.13L380.21,265.21L380.82,265.28L381.42,265.35L382.03,265.42L382.64,265.49L383.25,265.55L383.86,265.61L384.46,265.66L385.07,265.72L385.68,265.78L386.29,265.84L386.9,265.89L387.5,265.95L388.11,266.01L388.72,266.07L389.33,266.12L389.94,266.18L390.55,266.24L391.15,266.3L391.76,266.35L392.37,266.41L392.98,266.47L393.59,266.53L394.19,266.59L394.8,266.64L395.41,266.69L396.02,266.73L396.63,266.77L397.23,266.81L397.84,266.85L398.45,266.88L399.06,266.92L399.67,266.96L400.27,267L400.88,267.04L401.49,267.08L402.1,267.12L402.71,267.15L403.31,267.19L403.92,267.23L404.53,267.27L405.14,267.31L405.75,267.35L406.35,267.39L406.96,267.42L407.57,267.46L408.18,267.5L408.79,267.54L409.39,267.58L410,267.62L410.61,267.65L411.22,267.68L411.83,267.71L412.43,267.75L413.04,267.78L413.65,267.81L414.26,267.84L414.87,267.87L415.47,267.91L416.08,267.94L416.69,267.97L417.3,268L417.91,268.04L418.52,268.07L419.12,268.1L419.73,268.13L420.34,268.17L420.95,268.2L421.56,268.23L422.16,268.26L422.77,268.29L423.38,268.33L423.99,268.37L424.6,268.41L425.2,268.45L425.81,268.49L426.42,268.53L427.03,268.57L427.64,268.61L428.24,268.65L428.85,268.69L429.46,268.73L430.07,268.77L430.68,268.81L431.28,268.85L431.89,268.89L432.5,268.93L433.11,268.97L433.61,268.97" fill="none" stroke="#7ab4e4" stroke-width="1.5" stroke-linejoin="round"/>
<path d="M374.54,263.34v2.4M394.93,265.45v2.4M395.92,265.52v2.4M337.53,256.03v2.4M322.84,251.63v2.4M363.41,261.8v2.4M352.18,259.96v2.4M411.97,266.52v2.4M398.62,265.69v2.4M388.68,264.86v2.4M383.86,264.41v2.4M395.35,265.49v2.4M337.83,256.18v2.4M370.69,262.88v2.4M339.72,256.89v2.4M422.63,267.09v2.4M328.19,252.6v2.4M412.91,266.57v2.4M329.95,253v2.4M398.21,265.67v2.4M359.2,261.14v2.4M366.74,262.31v2.4M415.54,266.71v2.4M323.71,251.77v2.4M328.41,252.65v2.4M423.64,267.15v2.4M378.37,263.79v2.4M331.78,253.54v2.4M431.67,267.68v2.4M427.17,267.38v2.4M334.18,254.39v2.4M368.81,262.62v2.4M336.69,255.61v2.4M356.47,260.68v2.4M390.91,265.07v2.4M339.86,256.93v2.4M399.31,265.74v2.4M327.36,252.42v2.4M340.72,257.21v2.4M412.56,266.55v2.4M366.28,262.24v2.4M368.32,262.55v2.4M388.07,264.8v2.4M374.78,263.36v2.4M364.5,261.97v2.4M325.03,251.99v2.4M402.6,265.95v2.4M429.48,267.53v2.4M430.47,267.6v2.4M395.61,265.5v2.4M361.36,261.49v2.4M362.11,261.6v2.4M398.56,265.69v2.4M396.74,265.58v2.4M334.32,254.45v2.4M347.83,259.03v2.4M362.13,261.61v2.4M378.64,263.82v2.4M411.94,266.52v2.4M377.37,263.67v2.4M324.77,251.95v2.4M413.33,266.59v2.4M369.59,262.74v2.4M379.49,263.92v2.4M346.4,258.72v2.4M369.26,262.69v2.4M364.91,262.03v2.4M407.68,266.27v2.4M333.07,254v2.4M382.94,264.32v2.4" stroke="#7ab4e4" stroke-width="0.6" opacity="0.8"/>
<path d="M312,252.3L312.11,252.3L312.72,252.3L313.32,252.3L313.93,252.3L314.54,252.3L315.15,252.3L315.76,252.3L316.36,252.3L316.97,252.3L317.58,252.3L318.19,252.3L318.8,252.3L319.4,252.34L320.01,252.43L320.62,252.51L321.23,252.59L321.84,252.68L322.44,252.76L323.05,252.85L323.66,252.95L324.27,253.05L324.88,253.14L325.48,253.24L326.09,253.34L326.7,253.44L327.31,253.57L327.92,253.7L328.53,253.84L329.13,253.97L329.74,254.1L330.35,254.24L330.96,254.4L331.57,254.61L332.17,254.81L332.78,255.02L333.39,255.23L334,255.44L334.61,255.69L335.21,255.98L335.82,256.27L336.43,256.57L337.04,256.86L337.65,257.15L338.25,257.44L338.86,257.65L339.47,257.85L340.08,258.04L340.69,258.24L341.29,258.43L341.9,258.63L342.51,258.78L343.12,258.93L343.73,259.09L344.33,259.24L344.94,259.39L345.55,259.54L346.16,259.67L346.77,259.79L347.37,259.92L347.98,260.05L348.59,260.18L349.2,260.3L349.81,260.43L350.41,260.56L351.02,260.69L351.63,260.81L352.24,260.93L352.85,261.03L353.45,261.13L354.06,261.23L354.67,261.33L355.28,261.43L355.89,261.53L356.49,261.63L357.1,261.73L357.71,261.83L358.32,261.93L358.93,262.03L359.54,262.13L360.14,262.23L360.75,262.32L361.36,262.41L361.97,262.5L362.58,262.59L363.18,262.68L363.79,262.77L364.4,262.86L365.01,262.95L365.62,263.04L366.22,263.13L366.83,263.22L367.44,263.31L368.05,263.4L368.66,263.49L369.26,263.58L369.87,263.67L370.48,263.74L371.09,263.81L371.7,263.88L372.3,263.95L372.91,264.02L373.52,264.09L374.13,264.16L374.74,264.23L375.34,264.3L375.95,264.37L376.56,264.44L377.17,264.51L377.78,264.58L378.38,264.65L378.99,264.72L379.6,264.79L380.21,264.86L380.82,264.93L381.42,265L382.03,265.07L382.64,265.13L383.25,265.19L383.86,265.25L384.46,265.3L385.07,265.36L385.68,265.41L386.29,265.47L386.9,265.53L387.5,265.58L388.11,265.64L388.72,265.69L389.33,265.75L389.94,265.81L390.55,265.86L391.15,265.92L391.76,265.97L392.37,266.03L392.98,266.09L393.59,266.14L394.19,266.2L394.8,266.25L395.41,266.3L396.02,266.34L396.63,266.38L397.23,266.41L397.84,266.45L398.45,266.49L399.06,266.53L399.67,266.56L400.27,266.6L400.88,266.64L401.49,266.68L402.1,266.72L402.71,266.75L403.31,266.79L403.92,266.83L404.53,266.87L405.14,266.9L405.75,266.94L406.35,266.98L406.96,267.02L407.57,267.05L408.18,267.09L408.79,267.13L409.39,267.17L410,267.2L410.61,267.23L411.22,267.26L411.83,267.3L412.43,267.33L413.04,267.36L413.65,267.39L414.26,267.42L414.87,267.45L415.47,267.48L416.08,267.52L416.69,267.55L417.3,267.58L417.91,267.61L418.52,267.64L419.12,267.67L419.73,267.71L420.34,267.74L420.95,267.77L421.56,267.8L422.16,267.83L422.77,267.86L423.38,267.9L423.99,267.94L424.6,267.98L425.2,268.02L425.81,268.05L426.42,268.09L427.03,268.13L427.64,268.17L428.24,268.21L428.85,268.25L429.46,268.29L430.07,268.33L430.68,268.37L431.28,268.4L431.89,268.44L432.5,268.48L433.11,268.52L433.61,268.52" fill="none" stroke="#356b52" stroke-width="1.5" stroke-linejoin="round"/>
<path d="M350.51,259.38v2.4M398.02,265.26v2.4M397.89,265.26v2.4M416.31,266.33v2.4M342.34,257.54v2.4M347.34,258.71v2.4M338.04,256.14v2.4M346.73,258.59v2.4M403.46,265.6v2.4M336.15,255.23v2.4M380.86,263.73v2.4M345.48,258.32v2.4M354.48,260.1v2.4M369.74,262.45v2.4M415.01,266.26v2.4M389.46,264.56v2.4M323.24,251.68v2.4M352.38,259.75v2.4M337.99,256.11v2.4M418.76,266.45v2.4M411.9,266.1v2.4M411.49,266.08v2.4M413.75,266.2v2.4M404.65,265.67v2.4M427.46,266.96v2.4M410.12,266.01v2.4M350.25,259.32v2.4M416.38,266.33v2.4M375.9,263.16v2.4M405.8,265.74v2.4M384.52,264.11v2.4M369.52,262.42v2.4M362.23,261.34v2.4M369.55,262.42v2.4M356.61,260.45v2.4M334.72,254.54v2.4M413,266.16v2.4M410.62,266.03v2.4M431.51,267.22v2.4M398.65,265.3v2.4M383.42,264.01v2.4M405.06,265.7v2.4M336.67,255.48v2.4M397.08,265.21v2.4M371.06,262.6v2.4M341.32,257.24v2.4M344.22,258.01v2.4M379.9,263.62v2.4M349.87,259.24v2.4M372.85,262.81v2.4M389.13,264.53v2.4M365.75,261.86v2.4M336.21,255.26v2.4M376.35,263.21v2.4M347.88,258.83v2.4M347.91,258.83v2.4M343.31,257.78v2.4M362.48,261.37v2.4M329.8,252.92v2.4M394.23,265v2.4M427.94,266.99v2.4M365.07,261.76v2.4M401.77,265.5v2.4M425.64,266.84v2.4M326.45,252.2v2.4M337.43,255.85v2.4M411.49,266.08v2.4M415.07,266.26v2.4M392.87,264.88v2.4M339.44,256.64v2.4" stroke="#356b52" stroke-width="0.6" opacity="0.8"/>
<path d="M312,252.3L312.11,252.3L312.72,252.3L313.32,252.3L313.93,252.3L314.54,252.3L315.15,252.3L315.76,252.3L316.36,252.3L316.97,252.3L317.58,252.3L318.19,252.3L318.8,252.3L319.4,252.34L320.01,252.42L320.62,252.5L321.23,252.58L321.84,252.65L322.44,252.73L323.05,252.82L323.66,252.91L324.27,253L324.88,253.1L325.48,253.19L326.09,253.28L326.7,253.37L327.31,253.5L327.92,253.63L328.53,253.75L329.13,253.88L329.74,254L330.35,254.13L330.96,254.28L331.57,254.48L332.17,254.67L332.78,254.87L333.39,255.07L334,255.27L334.61,255.5L335.21,255.78L335.82,256.05L336.43,256.33L337.04,256.61L337.65,256.88L338.25,257.16L338.86,257.36L339.47,257.54L340.08,257.72L340.69,257.91L341.29,258.09L341.9,258.27L342.51,258.42L343.12,258.56L343.73,258.71L344.33,258.85L344.94,259L345.55,259.14L346.16,259.26L346.77,259.38L347.37,259.5L347.98,259.62L348.59,259.74L349.2,259.86L349.81,259.98L350.41,260.1L351.02,260.22L351.63,260.34L352.24,260.45L352.85,260.55L353.45,260.64L354.06,260.73L354.67,260.83L355.28,260.92L355.89,261.02L356.49,261.11L357.1,261.2L357.71,261.3L358.32,261.39L358.93,261.49L359.54,261.58L360.14,261.68L360.75,261.76L361.36,261.85L361.97,261.93L362.58,262.02L363.18,262.1L363.79,262.19L364.4,262.27L365.01,262.36L365.62,262.44L366.22,262.53L366.83,262.61L367.44,262.7L368.05,262.78L368.66,262.87L369.26,262.95L369.87,263.04L370.48,263.1L371.09,263.17L371.7,263.23L372.3,263.3L372.91,263.37L373.52,263.43L374.13,263.5L374.74,263.56L375.34,263.63L375.95,263.7L376.56,263.76L377.17,263.83L377.78,263.9L378.38,263.96L378.99,264.03L379.6,264.09L380.21,264.16L380.82,264.23L381.42,264.29L382.03,264.36L382.64,264.42L383.25,264.47L383.86,264.53L384.46,264.58L385.07,264.63L385.68,264.69L386.29,264.74L386.9,264.79L387.5,264.84L388.11,264.9L388.72,264.95L389.33,265L389.94,265.06L390.55,265.11L391.15,265.16L391.76,265.21L392.37,265.27L392.98,265.32L393.59,265.37L394.19,265.43L394.8,265.48L395.41,265.52L396.02,265.56L396.63,265.59L397.23,265.63L397.84,265.67L398.45,265.7L399.06,265.74L399.67,265.77L400.27,265.81L400.88,265.84L401.49,265.88L402.1,265.91L402.71,265.95L403.31,265.99L403.92,266.02L404.53,266.06L405.14,266.09L405.75,266.13L406.35,266.16L406.96,266.2L407.57,266.23L408.18,266.27L408.79,266.3L409.39,266.34L410,266.37L410.61,266.4L411.22,266.43L411.83,266.46L412.43,266.49L413.04,266.52L413.65,266.55L414.26,266.58L414.87,266.61L415.47,266.64L416.08,266.67L416.69,266.7L417.3,266.73L417.91,266.76L418.52,266.79L419.12,266.82L419.73,266.85L420.34,266.88L420.95,266.91L421.56,266.94L422.16,266.97L422.77,267L423.38,267.03L423.99,267.07L424.6,267.11L425.2,267.14L425.81,267.18L426.42,267.22L427.03,267.25L427.64,267.29L428.24,267.33L428.85,267.36L429.46,267.4L430.07,267.44L430.68,267.47L431.28,267.51L431.89,267.55L432.5,267.58L433.11,267.62L433.61,267.62" fill="none" stroke="#2b4a87" stroke-width="1.5" stroke-linejoin="round"/>
<path d="M333.54,253.92v2.4M399.95,264.59v2.4M394.32,264.24v2.4M426.46,266.02v2.4M351.86,259.18v2.4M350.15,258.85v2.4M403.46,264.79v2.4M395.03,264.3v2.4M355.41,259.74v2.4M397.91,264.47v2.4M365.85,261.28v2.4M408.31,265.08v2.4M334.83,254.4v2.4M346.52,258.13v2.4M422.12,265.77v2.4M361.55,260.67v2.4M350.66,258.95v2.4M411.29,265.24v2.4M392.05,264.04v2.4M338.32,255.99v2.4M383.09,263.26v2.4M395.65,264.34v2.4M340.02,256.51v2.4M394.28,264.23v2.4M335.35,254.64v2.4M359.21,260.33v2.4M330.91,253.07v2.4M344.42,257.67v2.4M430.66,266.27v2.4M366.63,261.38v2.4M432.04,266.36v2.4M370.53,261.91v2.4M389.36,263.81v2.4M418.91,265.61v2.4M398.2,264.49v2.4M334.07,254.09v2.4M387.3,263.63v2.4M392.28,264.06v2.4M341.83,257.05v2.4M332.19,253.48v2.4M419.15,265.62v2.4M378.91,262.82v2.4M343.24,257.39v2.4M372.09,262.08v2.4M345.96,258.02v2.4M410.62,265.2v2.4M377.42,262.66v2.4M333.05,253.76v2.4M412.83,265.31v2.4M331.61,253.29v2.4M352.92,259.36v2.4M324.75,251.88v2.4M404.16,264.84v2.4M334.33,254.18v2.4M380.24,262.96v2.4M332,253.42v2.4M375.19,262.41v2.4M398.04,264.48v2.4M381.26,263.07v2.4M372.37,262.11v2.4M375.68,262.47v2.4M370.35,261.89v2.4M388.01,263.69v2.4M332.21,253.49v2.4M374.53,262.34v2.4M347.97,258.42v2.4M418.11,265.57v2.4M426.31,266.01v2.4M329.04,252.66v2.4M337.61,255.66v2.4" stroke="#2b4a87" stroke-width="0.6" opacity="0.8"/>
<path d="M312,252.3L312.11,252.3L312.72,252.3L313.32,252.3L313.93,252.3L314.54,252.3L315.15,252.3L315.76,252.3L316.36,252.3L316.97,252.3L317.58,252.3L318.19,252.3L318.8,252.3L319.4,252.34L320.01,252.41L320.62,252.49L321.23,252.56L321.84,252.64L322.44,252.71L323.05,252.8L323.66,252.88L324.27,252.97L324.88,253.06L325.48,253.15L326.09,253.23L326.7,253.32L327.31,253.44L327.92,253.56L328.53,253.68L329.13,253.8L329.74,253.92L330.35,254.04L330.96,254.18L331.57,254.37L332.17,254.56L332.78,254.75L333.39,254.93L334,255.12L334.61,255.35L335.21,255.61L335.82,255.87L336.43,256.13L337.04,256.39L337.65,256.66L338.25,256.92L338.86,257.11L339.47,257.28L340.08,257.46L340.69,257.63L341.29,257.81L341.9,257.98L342.51,258.12L343.12,258.26L343.73,258.39L344.33,258.53L344.94,258.67L345.55,258.8L346.16,258.92L346.77,259.03L347.37,259.15L347.98,259.26L348.59,259.37L349.2,259.49L349.81,259.6L350.41,259.72L351.02,259.83L351.63,259.95L352.24,260.05L352.85,260.14L353.45,260.23L354.06,260.32L354.67,260.41L355.28,260.5L355.89,260.59L356.49,260.68L357.1,260.77L357.71,260.86L358.32,260.95L358.93,261.04L359.54,261.13L360.14,261.22L360.75,261.3L361.36,261.38L361.97,261.46L362.58,261.54L363.18,261.62L363.79,261.7L364.4,261.78L365.01,261.86L365.62,261.95L366.22,262.03L366.83,262.11L367.44,262.19L368.05,262.27L368.66,262.35L369.26,262.43L369.87,262.51L370.48,262.57L371.09,262.63L371.7,262.7L372.3,262.76L372.91,262.82L373.52,262.89L374.13,262.95L374.74,263.01L375.34,263.08L375.95,263.14L376.56,263.2L377.17,263.26L377.78,263.33L378.38,263.39L378.99,263.45L379.6,263.52L380.21,263.58L380.82,263.64L381.42,263.7L382.03,263.77L382.64,263.83L383.25,263.88L383.86,263.93L384.46,263.98L385.07,264.03L385.68,264.08L386.29,264.13L386.9,264.18L387.5,264.23L388.11,264.28L388.72,264.33L389.33,264.38L389.94,264.43L390.55,264.48L391.15,264.53L391.76,264.58L392.37,264.63L392.98,264.68L393.59,264.73L394.19,264.78L394.8,264.83L395.41,264.88L396.02,264.91L396.63,264.94L397.23,264.98L397.84,265.01L398.45,265.04L399.06,265.08L399.67,265.11L400.27,265.15L400.88,265.18L401.49,265.21L402.1,265.25L402.71,265.28L403.31,265.31L403.92,265.35L404.53,265.38L405.14,265.42L405.75,265.45L406.35,265.48L406.96,265.52L407.57,265.55L408.18,265.58L408.79,265.62L409.39,265.65L410,265.68L410.61,265.71L411.22,265.74L411.83,265.77L412.43,265.8L413.04,265.83L413.65,265.85L414.26,265.88L414.87,265.91L415.47,265.94L416.08,265.97L416.69,265.99L417.3,266.02L417.91,266.05L418.52,266.08L419.12,266.11L419.73,266.14L420.34,266.16L420.95,266.19L421.56,266.22L422.16,266.25L422.77,266.28L423.38,266.31L423.99,266.34L424.6,266.38L425.2,266.41L425.81,266.45L426.42,266.48L427.03,266.52L427.64,266.55L428.24,266.59L428.85,266.62L429.46,266.66L430.07,266.69L430.68,266.73L431.28,266.76L431.89,266.8L432.5,266.83L433.11,266.87L433.61,266.87" fill="none" stroke="#56649c" stroke-width="1.5" stroke-linejoin="round"/>
<path d="M429.23,265.45v2.4M322.93,251.58v2.4M403.68,264.13v2.4M339.25,256.02v2.4M431.59,265.58v2.4M323.52,251.66v2.4M419.67,264.93v2.4M397.59,263.8v2.4M417.21,264.82v2.4M433.09,265.67v2.4M348.36,258.13v2.4M359.32,259.9v2.4M400.58,263.96v2.4M352.91,258.95v2.4M350.99,258.62v2.4M347.12,257.9v2.4M417.26,264.82v2.4M419.12,264.91v2.4M410.55,264.51v2.4M346.54,257.79v2.4M424.73,265.19v2.4M378.64,262.22v2.4M347.43,257.96v2.4M372.41,261.57v2.4M368.44,261.12v2.4M330.44,252.86v2.4M384.58,262.79v2.4M361.76,260.23v2.4M385.13,262.83v2.4M425.33,265.22v2.4M393.6,263.53v2.4M366.79,260.9v2.4M417.9,264.85v2.4M432.57,265.64v2.4M376.28,261.97v2.4M426.98,265.32v2.4M323.72,251.69v2.4M337.28,255.3v2.4M340.83,256.47v2.4M426.2,265.27v2.4M398.61,263.85v2.4M401.79,264.03v2.4M353.58,259.05v2.4M376.81,262.03v2.4M420.52,264.97v2.4M332.77,253.54v2.4M334.59,254.14v2.4M326.92,252.16v2.4M373.88,261.72v2.4M415.33,264.73v2.4M383.5,262.7v2.4M366.39,260.85v2.4M377.6,262.11v2.4M341.61,256.7v2.4M427.33,265.34v2.4M361.07,260.14v2.4M347.86,258.04v2.4M356.33,259.45v2.4M413.59,264.65v2.4M357.11,259.57v2.4M422.5,265.06v2.4M359.11,259.86v2.4M370.86,261.41v2.4M329.91,252.75v2.4M422.79,265.08v2.4M410.38,264.5v2.4M374.52,261.79v2.4M334.5,254.1v2.4M376.53,262v2.4M363.56,260.47v2.4" stroke="#56649c" stroke-width="0.6" opacity="0.8"/>
<path d="M312,252.3L312.11,252.3L312.72,252.3L313.32,252.3L313.93,252.3L314.54,252.3L315.15,252.3L315.76,252.3L316.36,252.3L316.97,252.3L317.58,252.3L318.19,252.3L318.8,252.3L319.4,252.33L320.01,252.4L320.62,252.46L321.23,252.52L321.84,252.59L322.44,252.65L323.05,252.72L323.66,252.8L324.27,252.87L324.88,252.95L325.48,253.02L326.09,253.1L326.7,253.17L327.31,253.28L327.92,253.38L328.53,253.48L329.13,253.58L329.74,253.69L330.35,253.79L330.96,253.91L331.57,254.07L332.17,254.23L332.78,254.39L333.39,254.55L334,254.71L334.61,254.91L335.21,255.13L335.82,255.35L336.43,255.58L337.04,255.8L337.65,256.03L338.25,256.25L338.86,256.41L339.47,256.56L340.08,256.71L340.69,256.86L341.29,257.01L341.9,257.16L342.51,257.28L343.12,257.4L343.73,257.51L344.33,257.63L344.94,257.75L345.55,257.86L346.16,257.96L346.77,258.06L347.37,258.16L347.98,258.26L348.59,258.35L349.2,258.45L349.81,258.55L350.41,258.65L351.02,258.74L351.63,258.84L352.24,258.93L352.85,259.01L353.45,259.09L354.06,259.16L354.67,259.24L355.28,259.32L355.89,259.39L356.49,259.47L357.1,259.55L357.71,259.62L358.32,259.7L358.93,259.78L359.54,259.85L360.14,259.93L360.75,260L361.36,260.07L361.97,260.14L362.58,260.21L363.18,260.28L363.79,260.35L364.4,260.41L365.01,260.48L365.62,260.55L366.22,260.62L366.83,260.69L367.44,260.76L368.05,260.83L368.66,260.9L369.26,260.97L369.87,261.04L370.48,261.09L371.09,261.14L371.7,261.2L372.3,261.25L372.91,261.3L373.52,261.36L374.13,261.41L374.74,261.47L375.34,261.52L375.95,261.57L376.56,261.63L377.17,261.68L377.78,261.74L378.38,261.79L378.99,261.84L379.6,261.9L380.21,261.95L380.82,262L381.42,262.06L382.03,262.11L382.64,262.16L383.25,262.21L383.86,262.25L384.46,262.29L385.07,262.34L385.68,262.38L386.29,262.42L386.9,262.46L387.5,262.51L388.11,262.55L388.72,262.59L389.33,262.64L389.94,262.68L390.55,262.72L391.15,262.77L391.76,262.81L392.37,262.85L392.98,262.9L393.59,262.94L394.19,262.98L394.8,263.02L395.41,263.06L396.02,263.09L396.63,263.12L397.23,263.15L397.84,263.18L398.45,263.21L399.06,263.23L399.67,263.26L400.27,263.29L400.88,263.32L401.49,263.35L402.1,263.38L402.71,263.41L403.31,263.44L403.92,263.47L404.53,263.49L405.14,263.52L405.75,263.55L406.35,263.58L406.96,263.61L407.57,263.64L408.18,263.67L408.79,263.7L409.39,263.73L410,263.75L410.61,263.78L411.22,263.8L411.83,263.82L412.43,263.85L413.04,263.87L413.65,263.9L414.26,263.92L414.87,263.95L415.47,263.97L416.08,263.99L416.69,264.02L417.3,264.04L417.91,264.07L418.52,264.09L419.12,264.11L419.73,264.14L420.34,264.16L420.95,264.19L421.56,264.21L422.16,264.24L422.77,264.26L423.38,264.29L423.99,264.32L424.6,264.35L425.2,264.38L425.81,264.41L426.42,264.44L427.03,264.47L427.64,264.5L428.24,264.53L428.85,264.56L429.46,264.59L430.07,264.62L430.68,264.65L431.28,264.68L431.89,264.71L432.5,264.74L433.11,264.77L433.61,264.77" fill="none" stroke="#69ab45" stroke-width="1.5" stroke-linejoin="round"/>
<path d="M361.93,258.93v2.4M375.2,260.31v2.4M368.11,259.64v2.4M371.44,259.97v2.4M367.28,259.54v2.4M394.95,261.84v2.4M350.49,257.46v2.4M392.42,261.66v2.4M322.76,251.49v2.4M355.3,258.12v2.4M358.98,258.58v2.4M337.46,254.76v2.4M404.51,262.29v2.4M356.2,258.23v2.4M409.61,262.54v2.4M428.23,263.33v2.4M349.89,257.36v2.4M421.24,263v2.4M411.66,262.62v2.4M396.03,261.89v2.4M324.68,251.72v2.4M372.55,260.07v2.4M391.5,261.59v2.4M354.66,258.04v2.4M346.64,256.84v2.4M356.17,258.23v2.4M350.42,257.45v2.4M409.46,262.53v2.4M360.4,258.76v2.4M368.8,259.72v2.4M393.31,261.72v2.4M427.35,263.28v2.4M354.3,257.99v2.4M326.54,251.95v2.4M430.2,263.42v2.4M414.44,262.73v2.4M409.74,262.54v2.4M379.98,260.73v2.4M347.81,257.03v2.4M338.86,255.21v2.4M355.55,258.15v2.4M373.01,260.11v2.4M328.96,252.36v2.4M399.59,262.06v2.4M402.77,262.21v2.4M323.09,251.53v2.4M415.54,262.77v2.4M376.43,260.42v2.4M424.05,263.12v2.4M374.59,260.25v2.4M410.34,262.57v2.4M372.27,260.05v2.4M389.97,261.48v2.4M377.29,260.49v2.4M324.17,251.66v2.4M337.68,254.84v2.4M347.53,256.98v2.4M366.92,259.5v2.4M362.8,259.03v2.4M381.74,260.89v2.4M395.14,261.85v2.4M366.22,259.42v2.4M357.24,258.36v2.4M378.61,260.61v2.4M427.84,263.31v2.4M408.9,262.5v2.4M394.69,261.82v2.4M412.71,262.66v2.4M347.03,256.9v2.4M332.88,253.22v2.4" stroke="#69ab45" stroke-width="0.6" opacity="0.8"/>
<path d="M312,252.3L312.11,252.3L312.72,252.3L313.32,252.3L313.93,252.3L314.54,252.3L315.15,252.3L315.76,252.3L316.36,252.3L316.97,252.3L317.58,252.3L318.19,252.3L318.8,252.3L319.4,252.35L320.01,252.44L320.62,252.54L321.23,252.64L321.84,252.73L322.44,252.83L323.05,252.93L323.66,253.04L324.27,253.16L324.88,253.27L325.48,253.38L326.09,253.49L326.7,253.6L327.31,253.76L327.92,253.91L328.53,254.06L329.13,254.22L329.74,254.37L330.35,254.53L330.96,254.71L331.57,254.95L332.17,255.19L332.78,255.43L333.39,255.67L334,255.91L334.61,256.19L335.21,256.53L335.82,256.86L336.43,257.2L337.04,257.53L337.65,257.87L338.25,258.2L338.86,258.45L339.47,258.67L340.08,258.89L340.69,259.12L341.29,259.34L341.9,259.56L342.51,259.74L343.12,259.91L343.73,260.09L344.33,260.27L344.94,260.44L345.55,260.61L346.16,260.76L346.77,260.9L347.37,261.05L347.98,261.2L348.59,261.34L349.2,261.49L349.81,261.64L350.41,261.78L351.02,261.93L351.63,262.07L352.24,262.21L352.85,262.32L353.45,262.44L354.06,262.55L354.67,262.67L355.28,262.78L355.89,262.9L356.49,263.01L357.1,263.13L357.71,263.24L358.32,263.35L358.93,263.47L359.54,263.58L360.14,263.7L360.75,263.8L361.36,263.91L361.97,264.01L362.58,264.11L363.18,264.22L363.79,264.32L364.4,264.42L365.01,264.53L365.62,264.63L366.22,264.73L366.83,264.84L367.44,264.94L368.05,265.04L368.66,265.15L369.26,265.25L369.87,265.35L370.48,265.43L371.09,265.51L371.7,265.59L372.3,265.67L372.91,265.75L373.52,265.83L374.13,265.91L374.74,265.99L375.34,266.07L375.95,266.16L376.56,266.24L377.17,266.32L377.78,266.4L378.38,266.48L378.99,266.56L379.6,266.64L380.21,266.72L380.82,266.8L381.42,266.88L382.03,266.96L382.64,267.04L383.25,267.1L383.86,267.16L384.46,267.23L385.07,267.29L385.68,267.36L386.29,267.42L386.9,267.49L387.5,267.55L388.11,267.61L388.72,267.68L389.33,267.74L389.94,267.81L390.55,267.87L391.15,267.94L391.76,268L392.37,268.06L392.98,268.13L393.59,268.19L394.19,268.26L394.8,268.32L395.41,268.38L396.02,268.42L396.63,268.46L397.23,268.51L397.84,268.55L398.45,268.59L399.06,268.64L399.67,268.68L400.27,268.72L400.88,268.76L401.49,268.81L402.1,268.85L402.71,268.89L403.31,268.94L403.92,268.98L404.53,269.02L405.14,269.07L405.75,269.11L406.35,269.15L406.96,269.2L407.57,269.24L408.18,269.28L408.79,269.33L409.39,269.37L410,269.41L410.61,269.45L411.22,269.48L411.83,269.52L412.43,269.55L413.04,269.59L413.65,269.63L414.26,269.66L414.87,269.7L415.47,269.73L416.08,269.77L416.69,269.81L417.3,269.84L417.91,269.88L418.52,269.92L419.12,269.95L419.73,269.99L420.34,270.02L420.95,270.06L421.56,270.1L422.16,270.13L422.77,270.17L423.38,270.21L423.99,270.25L424.6,270.3L425.2,270.34L425.81,270.39L426.42,270.43L427.03,270.48L427.64,270.52L428.24,270.57L428.85,270.61L429.46,270.66L430.07,270.7L430.68,270.75L431.28,270.79L431.89,270.84L432.5,270.88L433.11,270.92L433.61,270.92" fill="none" stroke="#b41c45" stroke-width="1.5" stroke-linejoin="round"/>
<path d="M379.82,265.47v2.4M411.56,268.3v2.4M428.7,269.4v2.4M353.92,261.33v2.4M407.04,268v2.4M400.14,267.51v2.4M395.36,267.17v2.4M333.91,254.67v2.4M324.64,252.02v2.4M364.46,263.23v2.4M404.84,267.85v2.4M349.77,260.43v2.4M377.55,265.17v2.4M357.02,261.91v2.4M415.98,268.56v2.4M427,269.28v2.4M366.4,263.56v2.4M432.93,269.71v2.4M328.57,252.88v2.4M412.22,268.34v2.4M419.21,268.76v2.4M338.46,257.1v2.4M400.29,267.52v2.4M383.94,265.97v2.4M428.11,269.36v2.4M345.04,259.27v2.4M381.83,265.73v2.4M420,268.8v2.4M392.84,266.91v2.4M356.1,261.74v2.4M330.76,253.43v2.4M426.39,269.23v2.4M374.48,264.76v2.4M432.7,269.69v2.4M337.42,256.54v2.4M412.17,268.34v2.4M412.3,268.35v2.4M424.19,269.07v2.4M323.62,251.84v2.4M363.12,263.01v2.4M327.39,252.58v2.4M405.47,267.89v2.4M361.17,262.67v2.4M428.59,269.39v2.4M363.42,263.06v2.4M407.96,268.07v2.4M418.37,268.71v2.4M348.27,260.07v2.4M383.7,265.95v2.4M428.36,269.38v2.4M380.37,265.54v2.4M361.73,262.77v2.4M351.42,260.82v2.4M409.3,268.16v2.4M343.12,258.72v2.4M388.95,266.5v2.4M383.56,265.93v2.4M383.33,265.91v2.4M336.07,255.8v2.4M395.05,267.15v2.4M423.8,269.04v2.4M357.18,261.94v2.4M358.65,262.22v2.4M422.97,268.98v2.4M386.1,266.2v2.4M352.02,260.97v2.4M322.72,251.67v2.4M405.6,267.9v2.4M360.43,262.55v2.4M373.71,264.66v2.4" stroke="#b41c45" stroke-width="0.6" opacity="0.8"/>
<line x1="460.2" y1="165.6" x2="471.7" y2="165.6" stroke="#2b4a87" stroke-width="1.3" />
<line x1="466" y1="163" x2="466" y2="168.2" stroke="#2b4a87" stroke-width="1.1" />
<text x="474.8" y="168.3" font-size="8.4" text-anchor="start" fill="#1a1a1a" font-weight="normal"  stroke="#1a1a1a" stroke-width="0.18" textLength="20.49" lengthAdjust="spacingAndGlyphs">SAKK</text>
<line x1="460.2" y1="177.3" x2="471.7" y2="177.3" stroke="#56649c" stroke-width="1.3" />
<line x1="466" y1="174.7" x2="466" y2="179.9" stroke="#56649c" stroke-width="1.1" />
<text x="474.8" y="180" font-size="8.4" text-anchor="start" fill="#1a1a1a" font-weight="normal"  stroke="#1a1a1a" stroke-width="0.18" textLength="19.46" lengthAdjust="spacingAndGlyphs">NCRI</text>
<line x1="460.2" y1="189" x2="471.7" y2="189" stroke="#7ab4e4" stroke-width="1.3" />
<line x1="466" y1="186.4" x2="466" y2="191.6" stroke="#7ab4e4" stroke-width="1.1" />
<text x="474.8" y="191.7" font-size="8.4" text-anchor="start" fill="#1a1a1a" font-weight="normal"  stroke="#1a1a1a" stroke-width="0.18" textLength="17.41" lengthAdjust="spacingAndGlyphs">IAEA</text>
<line x1="460.2" y1="200.7" x2="471.7" y2="200.7" stroke="#356b52" stroke-width="1.3" />
<line x1="466" y1="198.1" x2="466" y2="203.3" stroke="#356b52" stroke-width="1.1" />
<text x="474.8" y="203.4" font-size="8.4" text-anchor="start" fill="#1a1a1a" font-weight="normal"  stroke="#1a1a1a" stroke-width="0.18" textLength="22.52" lengthAdjust="spacingAndGlyphs">PETAL</text>
<line x1="460.2" y1="212.4" x2="471.7" y2="212.4" stroke="#69ab45" stroke-width="1.3" />
<line x1="466" y1="209.8" x2="466" y2="215" stroke="#69ab45" stroke-width="1.1" />
<text x="474.8" y="215.1" font-size="8.4" text-anchor="start" fill="#1a1a1a" font-weight="normal"  stroke="#1a1a1a" stroke-width="0.18" textLength="38.23" lengthAdjust="spacingAndGlyphs">HOVON84</text>
<line x1="460.2" y1="224.1" x2="471.7" y2="224.1" stroke="#f1c232" stroke-width="1.3" />
<line x1="466" y1="221.5" x2="466" y2="226.7" stroke="#f1c232" stroke-width="1.1" />
<text x="474.8" y="226.8" font-size="8.4" text-anchor="start" fill="#1a1a1a" font-weight="normal"  stroke="#1a1a1a" stroke-width="0.18" textLength="29.02" lengthAdjust="spacingAndGlyphs">GSTT15</text>
<line x1="460.2" y1="235.8" x2="471.7" y2="235.8" stroke="#e99b33" stroke-width="1.3" />
<line x1="466" y1="233.2" x2="466" y2="238.4" stroke="#e99b33" stroke-width="1.1" />
<text x="474.8" y="238.5" font-size="8.4" text-anchor="start" fill="#1a1a1a" font-weight="normal"  stroke="#1a1a1a" stroke-width="0.18" textLength="28.33" lengthAdjust="spacingAndGlyphs">Bologna</text>
<line x1="460.2" y1="247.5" x2="471.7" y2="247.5" stroke="#b41c45" stroke-width="1.3" />
<line x1="466" y1="244.9" x2="466" y2="250.1" stroke="#b41c45" stroke-width="1.1" />
<text x="474.8" y="250.2" font-size="8.4" text-anchor="start" fill="#1a1a1a" font-weight="normal"  stroke="#1a1a1a" stroke-width="0.18" textLength="33.2" lengthAdjust="spacingAndGlyphs">NordicUS</text>
<rect x="0.5" y="0.5" width="519" height="446" fill="none" stroke="#000" stroke-width="1"/>
</svg>
</body></html>
